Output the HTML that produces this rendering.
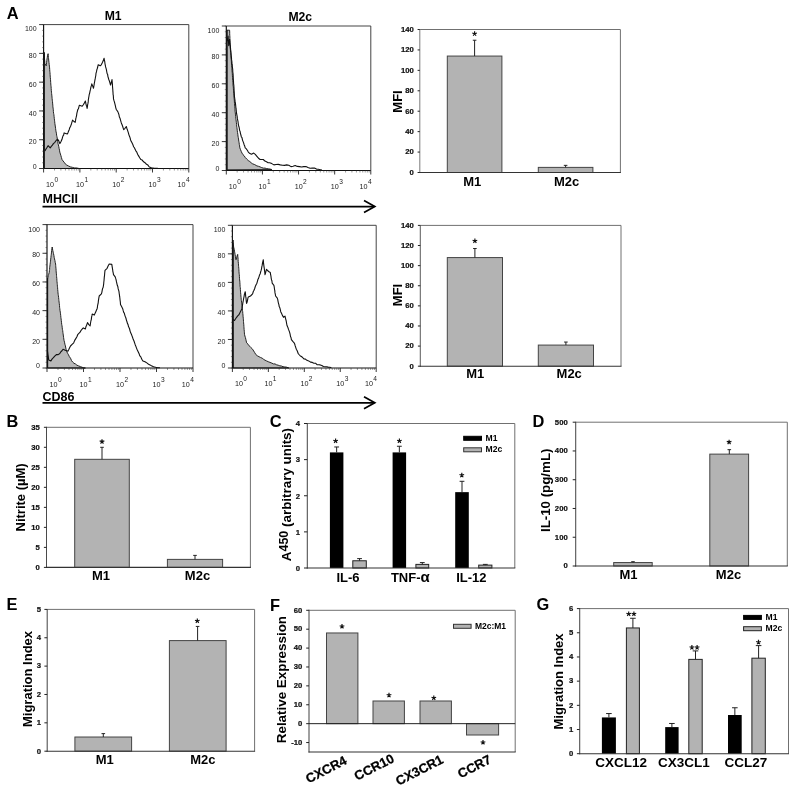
<!DOCTYPE html>
<html><head><meta charset="utf-8"><title>Figure</title>
<style>
html,body{margin:0;padding:0;background:#fff;}
body{width:800px;height:798px;overflow:hidden;font-family:'Liberation Sans', sans-serif;}
svg{display:block;filter:grayscale(1);font-family:'Liberation Sans', sans-serif;}
</style></head>
<body>
<svg width="800" height="798" viewBox="0 0 800 798">
<rect x="0" y="0" width="800" height="798" fill="#ffffff"/>
<path d="M44.1,168.5 L44.1,52.4 L44.2,54.0 L44.3,55.6 L44.4,57.3 L44.5,58.7 L44.7,60.6 L44.8,62.3 L44.9,63.7 L46.2,65.8 L46.4,64.2 L46.6,62.3 L46.8,60.8 L47.0,59.0 L47.3,57.3 L47.5,55.8 L48.1,53.7 L48.3,55.7 L48.4,57.5 L48.6,58.8 L48.8,61.0 L49.0,62.6 L49.2,64.4 L49.4,66.1 L49.6,67.9 L49.7,69.4 L49.8,71.2 L50.0,72.7 L50.1,74.4 L50.2,76.0 L50.3,77.3 L50.5,79.3 L50.6,81.0 L50.7,82.6 L50.8,84.0 L50.9,85.2 L51.1,86.8 L51.2,88.5 L51.3,90.3 L51.5,92.2 L51.6,93.5 L51.8,95.1 L52.0,97.1 L52.1,98.4 L52.3,100.2 L52.5,101.7 L52.6,103.1 L52.8,105.1 L52.9,106.9 L53.1,108.1 L53.3,109.8 L53.4,111.6 L53.6,113.3 L53.9,114.7 L54.1,116.7 L54.3,118.6 L54.5,120.2 L54.7,121.8 L54.9,123.7 L55.1,125.0 L55.4,127.0 L55.6,128.6 L55.8,130.2 L56.1,131.9 L56.4,133.2 L56.6,135.2 L56.9,136.4 L57.2,138.0 L57.4,140.0 L57.7,141.4 L58.0,143.5 L58.4,144.9 L58.8,146.7 L59.1,148.4 L59.5,150.2 L59.8,152.1 L60.4,154.0 L60.9,155.6 L61.4,157.4 L62.0,159.5 L63.0,160.9 L64.1,162.2 L65.2,163.8 L66.7,165.0 L68.3,165.9 L70.5,166.9 L72.6,167.4 L74.2,167.9 L75.8,167.9 L77.4,168.1 L79.0,168.5 Z" fill="#b9b9b9" stroke="#1a1a1a" stroke-width="0.95" stroke-linejoin="round"/>
<path d="M44.9,151.0 L46.0,149.0 L47.0,147.5 L48.1,145.7 L50.2,147.8 L51.3,146.3 L52.4,145.1 L53.4,143.6 L54.9,142.3 L56.3,140.2 L57.7,139.3 L58.8,140.9 L59.8,143.6 L60.9,141.8 L62.0,139.3 L62.5,137.4 L63.0,135.8 L63.6,135.1 L64.1,132.9 L65.7,133.4 L67.3,134.0 L67.9,132.9 L68.6,131.0 L69.2,129.7 L69.8,127.6 L70.5,126.5 L71.0,125.1 L71.5,123.7 L72.1,121.7 L72.6,120.1 L73.9,121.5 L75.2,122.3 L75.5,120.7 L75.9,118.2 L76.2,117.2 L76.6,115.3 L76.9,113.2 L77.3,111.6 L77.8,109.5 L78.4,108.8 L78.9,106.8 L79.4,105.2 L82.2,106.3 L83.3,104.7 L84.3,103.1 L85.4,101.0 L85.8,103.1 L86.2,105.1 L86.7,106.4 L87.1,108.4 L87.4,107.0 L87.6,104.9 L87.9,103.7 L88.2,101.9 L88.4,99.3 L88.7,97.6 L89.0,96.0 L89.2,94.6 L89.6,93.3 L90.1,90.9 L90.5,89.4 L90.9,87.2 L91.4,85.7 L91.8,83.9 L92.6,85.9 L93.5,88.2 L93.8,86.3 L94.1,85.0 L94.3,83.3 L94.6,82.0 L94.9,80.1 L95.2,78.7 L95.5,77.0 L95.8,75.5 L96.0,73.3 L96.5,71.7 L96.9,69.5 L97.3,68.5 L97.7,67.0 L98.2,64.7 L100.3,65.8 L101.4,64.6 L102.4,62.6 L103.3,60.6 L104.1,58.3 L104.4,60.3 L104.7,61.4 L105.0,63.8 L105.3,65.2 L105.6,66.9 L106.0,68.2 L106.4,69.6 L106.8,72.0 L107.2,73.8 L107.6,74.4 L108.0,76.8 L108.4,78.0 L108.8,79.6 L109.4,81.0 L110.0,83.0 L110.5,85.0 L111.0,83.5 L111.5,81.8 L112.0,79.6 L112.1,80.7 L112.3,83.0 L112.4,83.9 L112.5,86.3 L112.6,87.5 L112.8,89.7 L112.9,91.4 L113.0,92.4 L113.1,94.6 L113.3,95.4 L113.4,96.8 L113.5,98.8 L114.0,100.7 L114.4,101.9 L114.9,103.8 L115.4,105.8 L115.8,107.8 L116.3,109.5 L117.8,111.6 L118.3,112.9 L118.9,114.5 L119.4,117.1 L120.0,118.2 L120.5,120.1 L121.1,122.2 L121.6,123.8 L122.1,124.8 L122.7,126.5 L123.2,128.1 L123.7,129.7 L125.0,128.3 L126.3,126.5 L126.8,128.2 L127.4,129.8 L127.9,131.4 L128.4,132.9 L129.0,135.1 L129.5,136.3 L130.1,137.9 L130.6,140.0 L131.2,141.4 L132.0,142.7 L132.8,144.4 L133.6,146.7 L134.4,147.8 L135.2,149.4 L136.0,151.1 L136.8,152.1 L137.6,154.2 L138.6,155.9 L139.7,157.8 L140.8,159.5 L142.2,160.1 L143.6,161.8 L145.0,162.7 L146.5,164.3 L147.9,165.1 L149.3,167.0 L151.4,167.7 L153.6,168.1 L155.7,168.2 L157.8,168.2" fill="none" stroke="#111" stroke-width="1.1" stroke-linejoin="round"/>
<line x1="44.30" y1="52.50" x2="44.30" y2="168.50" stroke="#111" stroke-width="0.9" />
<path d="M43.6,24.6 H188.8 V168.5" fill="none" stroke="#3a3a3a" stroke-width="0.95"/>
<path d="M43.6,24.6 V168.5 H188.8" fill="none" stroke="#111" stroke-width="1.15"/>
<line x1="39.10" y1="168.50" x2="43.60" y2="168.50" stroke="#222" stroke-width="0.9" />
<text x="36.60" y="168.60" font-size="7" font-weight="normal" text-anchor="end" fill="#222" >0</text>
<line x1="39.10" y1="139.72" x2="43.60" y2="139.72" stroke="#222" stroke-width="0.9" />
<text x="36.60" y="144.42" font-size="7" font-weight="normal" text-anchor="end" fill="#222" >20</text>
<line x1="39.10" y1="110.94" x2="43.60" y2="110.94" stroke="#222" stroke-width="0.9" />
<text x="36.60" y="115.64" font-size="7" font-weight="normal" text-anchor="end" fill="#222" >40</text>
<line x1="39.10" y1="82.16" x2="43.60" y2="82.16" stroke="#222" stroke-width="0.9" />
<text x="36.60" y="86.86" font-size="7" font-weight="normal" text-anchor="end" fill="#222" >60</text>
<line x1="39.10" y1="53.38" x2="43.60" y2="53.38" stroke="#222" stroke-width="0.9" />
<text x="36.60" y="58.08" font-size="7" font-weight="normal" text-anchor="end" fill="#222" >80</text>
<line x1="39.10" y1="24.60" x2="43.60" y2="24.60" stroke="#222" stroke-width="0.9" />
<text x="36.60" y="31.10" font-size="7" font-weight="normal" text-anchor="end" fill="#222" >100</text>
<line x1="42.10" y1="168.50" x2="43.60" y2="168.50" stroke="#333" stroke-width="0.5" />
<line x1="42.10" y1="162.74" x2="43.60" y2="162.74" stroke="#333" stroke-width="0.5" />
<line x1="42.10" y1="156.99" x2="43.60" y2="156.99" stroke="#333" stroke-width="0.5" />
<line x1="42.10" y1="151.23" x2="43.60" y2="151.23" stroke="#333" stroke-width="0.5" />
<line x1="42.10" y1="145.48" x2="43.60" y2="145.48" stroke="#333" stroke-width="0.5" />
<line x1="42.10" y1="139.72" x2="43.60" y2="139.72" stroke="#333" stroke-width="0.5" />
<line x1="42.10" y1="133.96" x2="43.60" y2="133.96" stroke="#333" stroke-width="0.5" />
<line x1="42.10" y1="128.21" x2="43.60" y2="128.21" stroke="#333" stroke-width="0.5" />
<line x1="42.10" y1="122.45" x2="43.60" y2="122.45" stroke="#333" stroke-width="0.5" />
<line x1="42.10" y1="116.70" x2="43.60" y2="116.70" stroke="#333" stroke-width="0.5" />
<line x1="42.10" y1="110.94" x2="43.60" y2="110.94" stroke="#333" stroke-width="0.5" />
<line x1="42.10" y1="105.18" x2="43.60" y2="105.18" stroke="#333" stroke-width="0.5" />
<line x1="42.10" y1="99.43" x2="43.60" y2="99.43" stroke="#333" stroke-width="0.5" />
<line x1="42.10" y1="93.67" x2="43.60" y2="93.67" stroke="#333" stroke-width="0.5" />
<line x1="42.10" y1="87.92" x2="43.60" y2="87.92" stroke="#333" stroke-width="0.5" />
<line x1="42.10" y1="82.16" x2="43.60" y2="82.16" stroke="#333" stroke-width="0.5" />
<line x1="42.10" y1="76.40" x2="43.60" y2="76.40" stroke="#333" stroke-width="0.5" />
<line x1="42.10" y1="70.65" x2="43.60" y2="70.65" stroke="#333" stroke-width="0.5" />
<line x1="42.10" y1="64.89" x2="43.60" y2="64.89" stroke="#333" stroke-width="0.5" />
<line x1="42.10" y1="59.14" x2="43.60" y2="59.14" stroke="#333" stroke-width="0.5" />
<line x1="42.10" y1="53.38" x2="43.60" y2="53.38" stroke="#333" stroke-width="0.5" />
<line x1="42.10" y1="47.62" x2="43.60" y2="47.62" stroke="#333" stroke-width="0.5" />
<line x1="42.10" y1="41.87" x2="43.60" y2="41.87" stroke="#333" stroke-width="0.5" />
<line x1="42.10" y1="36.11" x2="43.60" y2="36.11" stroke="#333" stroke-width="0.5" />
<line x1="42.10" y1="30.36" x2="43.60" y2="30.36" stroke="#333" stroke-width="0.5" />
<line x1="42.10" y1="24.60" x2="43.60" y2="24.60" stroke="#333" stroke-width="0.5" />
<line x1="43.60" y1="168.50" x2="43.60" y2="172.50" stroke="#222" stroke-width="0.9" />
<text x="46.10" y="187.40" font-size="7.2" fill="#222" text-anchor="start">10<tspan dy="-5.0" dx="0.4" font-size="6.6">0</tspan></text>
<line x1="54.53" y1="168.50" x2="54.53" y2="170.50" stroke="#333" stroke-width="0.5" />
<line x1="60.92" y1="168.50" x2="60.92" y2="170.50" stroke="#333" stroke-width="0.5" />
<line x1="65.45" y1="168.50" x2="65.45" y2="170.50" stroke="#333" stroke-width="0.5" />
<line x1="68.97" y1="168.50" x2="68.97" y2="170.50" stroke="#333" stroke-width="0.5" />
<line x1="71.85" y1="168.50" x2="71.85" y2="170.50" stroke="#333" stroke-width="0.5" />
<line x1="74.28" y1="168.50" x2="74.28" y2="170.50" stroke="#333" stroke-width="0.5" />
<line x1="76.38" y1="168.50" x2="76.38" y2="170.50" stroke="#333" stroke-width="0.5" />
<line x1="78.24" y1="168.50" x2="78.24" y2="170.50" stroke="#333" stroke-width="0.5" />
<line x1="79.90" y1="168.50" x2="79.90" y2="172.50" stroke="#222" stroke-width="0.9" />
<text x="76.00" y="187.40" font-size="7.2" fill="#222" text-anchor="start">10<tspan dy="-5.0" dx="0.4" font-size="6.6">1</tspan></text>
<line x1="90.83" y1="168.50" x2="90.83" y2="170.50" stroke="#333" stroke-width="0.5" />
<line x1="97.22" y1="168.50" x2="97.22" y2="170.50" stroke="#333" stroke-width="0.5" />
<line x1="101.75" y1="168.50" x2="101.75" y2="170.50" stroke="#333" stroke-width="0.5" />
<line x1="105.27" y1="168.50" x2="105.27" y2="170.50" stroke="#333" stroke-width="0.5" />
<line x1="108.15" y1="168.50" x2="108.15" y2="170.50" stroke="#333" stroke-width="0.5" />
<line x1="110.58" y1="168.50" x2="110.58" y2="170.50" stroke="#333" stroke-width="0.5" />
<line x1="112.68" y1="168.50" x2="112.68" y2="170.50" stroke="#333" stroke-width="0.5" />
<line x1="114.54" y1="168.50" x2="114.54" y2="170.50" stroke="#333" stroke-width="0.5" />
<line x1="116.20" y1="168.50" x2="116.20" y2="172.50" stroke="#222" stroke-width="0.9" />
<text x="112.30" y="187.40" font-size="7.2" fill="#222" text-anchor="start">10<tspan dy="-5.0" dx="0.4" font-size="6.6">2</tspan></text>
<line x1="127.13" y1="168.50" x2="127.13" y2="170.50" stroke="#333" stroke-width="0.5" />
<line x1="133.52" y1="168.50" x2="133.52" y2="170.50" stroke="#333" stroke-width="0.5" />
<line x1="138.05" y1="168.50" x2="138.05" y2="170.50" stroke="#333" stroke-width="0.5" />
<line x1="141.57" y1="168.50" x2="141.57" y2="170.50" stroke="#333" stroke-width="0.5" />
<line x1="144.45" y1="168.50" x2="144.45" y2="170.50" stroke="#333" stroke-width="0.5" />
<line x1="146.88" y1="168.50" x2="146.88" y2="170.50" stroke="#333" stroke-width="0.5" />
<line x1="148.98" y1="168.50" x2="148.98" y2="170.50" stroke="#333" stroke-width="0.5" />
<line x1="150.84" y1="168.50" x2="150.84" y2="170.50" stroke="#333" stroke-width="0.5" />
<line x1="152.50" y1="168.50" x2="152.50" y2="172.50" stroke="#222" stroke-width="0.9" />
<text x="148.60" y="187.40" font-size="7.2" fill="#222" text-anchor="start">10<tspan dy="-5.0" dx="0.4" font-size="6.6">3</tspan></text>
<line x1="163.43" y1="168.50" x2="163.43" y2="170.50" stroke="#333" stroke-width="0.5" />
<line x1="169.82" y1="168.50" x2="169.82" y2="170.50" stroke="#333" stroke-width="0.5" />
<line x1="174.35" y1="168.50" x2="174.35" y2="170.50" stroke="#333" stroke-width="0.5" />
<line x1="177.87" y1="168.50" x2="177.87" y2="170.50" stroke="#333" stroke-width="0.5" />
<line x1="180.75" y1="168.50" x2="180.75" y2="170.50" stroke="#333" stroke-width="0.5" />
<line x1="183.18" y1="168.50" x2="183.18" y2="170.50" stroke="#333" stroke-width="0.5" />
<line x1="185.28" y1="168.50" x2="185.28" y2="170.50" stroke="#333" stroke-width="0.5" />
<line x1="187.14" y1="168.50" x2="187.14" y2="170.50" stroke="#333" stroke-width="0.5" />
<line x1="188.80" y1="168.50" x2="188.80" y2="172.50" stroke="#222" stroke-width="0.9" />
<text x="189.60" y="187.40" font-size="7.2" fill="#222" text-anchor="end">10<tspan dy="-5.0" dx="0.4" font-size="6.6">4</tspan></text>
<path d="M227.0,169.8 L227.0,30.2 L229.6,30.2 L229.7,32.0 L229.7,33.8 L229.8,35.6 L229.9,37.0 L229.9,38.7 L230.0,40.6 L230.0,42.3 L230.1,44.4 L230.2,46.1 L230.2,47.7 L230.4,49.4 L230.5,50.9 L230.6,52.6 L230.8,53.9 L230.9,55.6 L231.0,57.1 L231.2,59.1 L231.3,60.5 L231.4,61.9 L231.5,64.0 L231.7,65.2 L231.8,67.3 L231.9,68.7 L232.0,70.5 L232.2,72.4 L232.3,73.6 L232.4,75.3 L232.5,77.5 L232.6,78.9 L232.8,80.3 L232.9,82.5 L233.0,83.9 L233.1,85.8 L233.3,86.9 L233.4,88.8 L233.5,90.2 L233.6,91.9 L233.8,93.8 L233.9,95.1 L234.0,97.1 L234.1,98.3 L234.3,100.0 L234.4,102.0 L234.5,103.4 L234.6,105.0 L234.8,106.8 L234.9,108.3 L235.0,109.9 L235.1,111.6 L235.3,112.9 L235.5,114.9 L235.7,116.7 L235.8,118.3 L236.0,119.7 L236.2,121.1 L236.4,122.7 L236.6,124.5 L236.7,126.1 L236.9,127.3 L237.1,129.0 L237.3,130.8 L237.5,132.4 L237.8,134.2 L238.0,136.1 L238.3,137.6 L238.5,139.0 L238.8,141.2 L239.1,142.7 L239.3,144.4 L239.6,145.9 L239.8,147.8 L240.5,149.6 L241.2,151.3 L242.0,153.1 L243.0,154.7 L244.1,155.7 L245.2,157.4 L246.7,159.0 L248.3,160.6 L249.8,161.5 L251.2,162.8 L252.6,163.8 L254.7,164.6 L256.9,165.9 L258.5,166.3 L260.1,166.9 L261.7,167.6 L263.3,168.1 L265.0,168.1 L266.7,168.6 L268.4,168.8 L270.1,169.1 L271.8,169.5 Z" fill="#b9b9b9" stroke="#1a1a1a" stroke-width="0.95" stroke-linejoin="round"/>
<path d="M227.0,41.3 L227.4,39.7 L227.8,38.0 L228.1,36.0 L228.2,37.9 L228.3,39.7 L228.4,41.0 L228.5,42.8 L228.6,43.4 L228.7,45.6 L229.0,43.9 L229.2,42.9 L229.4,40.9 L229.6,39.2 L229.8,41.3 L229.9,42.2 L230.1,44.3 L230.3,45.7 L230.5,47.7 L230.6,49.5 L230.8,50.6 L231.0,52.5 L231.1,54.3 L231.3,56.2 L231.5,58.4 L231.6,59.9 L231.8,61.0 L232.0,63.4 L232.2,64.3 L232.3,66.6 L232.5,67.7 L232.7,69.3 L232.8,72.0 L233.0,73.3 L233.1,74.6 L233.2,76.3 L233.3,78.8 L233.4,80.4 L233.5,81.4 L233.6,83.8 L233.8,85.0 L233.9,86.8 L234.0,88.0 L234.1,90.5 L234.2,91.9 L234.3,93.9 L234.4,95.5 L234.5,96.7 L234.7,98.2 L234.9,99.9 L235.1,101.4 L235.4,103.1 L235.6,104.7 L235.8,106.7 L236.0,108.7 L236.2,109.8 L236.4,112.2 L236.6,113.7 L236.9,115.2 L237.2,116.7 L237.4,118.9 L237.7,120.1 L238.0,121.5 L238.2,123.3 L238.5,125.1 L238.8,126.5 L239.2,127.7 L239.6,130.4 L240.0,131.1 L240.5,133.6 L240.9,135.0 L241.4,137.0 L242.0,137.7 L242.5,140.1 L243.0,141.4 L243.6,142.9 L244.1,144.7 L244.6,145.7 L245.2,147.8 L246.2,148.7 L247.3,150.3 L248.3,152.1 L249.9,153.6 L251.5,154.2 L253.7,153.1 L255.3,154.4 L256.9,156.3 L258.5,158.2 L260.1,159.5 L263.3,159.5 L264.9,161.1 L266.5,161.7 L268.1,162.7 L269.6,162.7 L271.8,163.6 L273.9,164.9 L276.0,164.5 L278.2,164.4 L280.3,164.9 L282.4,165.3 L284.6,165.4 L286.7,164.9 L288.8,165.3 L291.0,166.6 L293.1,166.3 L295.2,165.5 L297.3,166.4 L299.5,166.6 L301.6,167.0 L303.7,166.6 L305.9,166.5 L308.0,167.4 L310.1,168.2 L312.3,168.1 L314.4,168.1 L316.5,169.1 L318.3,169.2 L320.1,169.7 L321.8,169.8" fill="none" stroke="#111" stroke-width="1.1" stroke-linejoin="round"/>
<line x1="227.00" y1="30.00" x2="227.00" y2="170.50" stroke="#111" stroke-width="0.9" />
<path d="M226.3,26.0 H370.8 V170.5" fill="none" stroke="#3a3a3a" stroke-width="0.95"/>
<path d="M226.3,26.0 V170.5 H370.8" fill="none" stroke="#111" stroke-width="1.15"/>
<line x1="221.80" y1="170.50" x2="226.30" y2="170.50" stroke="#222" stroke-width="0.9" />
<text x="219.30" y="170.60" font-size="7" font-weight="normal" text-anchor="end" fill="#222" >0</text>
<line x1="221.80" y1="141.60" x2="226.30" y2="141.60" stroke="#222" stroke-width="0.9" />
<text x="219.30" y="145.70" font-size="7" font-weight="normal" text-anchor="end" fill="#222" >20</text>
<line x1="221.80" y1="112.70" x2="226.30" y2="112.70" stroke="#222" stroke-width="0.9" />
<text x="219.30" y="116.80" font-size="7" font-weight="normal" text-anchor="end" fill="#222" >40</text>
<line x1="221.80" y1="83.80" x2="226.30" y2="83.80" stroke="#222" stroke-width="0.9" />
<text x="219.30" y="87.90" font-size="7" font-weight="normal" text-anchor="end" fill="#222" >60</text>
<line x1="221.80" y1="54.90" x2="226.30" y2="54.90" stroke="#222" stroke-width="0.9" />
<text x="219.30" y="59.00" font-size="7" font-weight="normal" text-anchor="end" fill="#222" >80</text>
<line x1="221.80" y1="26.00" x2="226.30" y2="26.00" stroke="#222" stroke-width="0.9" />
<text x="219.30" y="33.10" font-size="7" font-weight="normal" text-anchor="end" fill="#222" >100</text>
<line x1="224.80" y1="170.50" x2="226.30" y2="170.50" stroke="#333" stroke-width="0.5" />
<line x1="224.80" y1="164.72" x2="226.30" y2="164.72" stroke="#333" stroke-width="0.5" />
<line x1="224.80" y1="158.94" x2="226.30" y2="158.94" stroke="#333" stroke-width="0.5" />
<line x1="224.80" y1="153.16" x2="226.30" y2="153.16" stroke="#333" stroke-width="0.5" />
<line x1="224.80" y1="147.38" x2="226.30" y2="147.38" stroke="#333" stroke-width="0.5" />
<line x1="224.80" y1="141.60" x2="226.30" y2="141.60" stroke="#333" stroke-width="0.5" />
<line x1="224.80" y1="135.82" x2="226.30" y2="135.82" stroke="#333" stroke-width="0.5" />
<line x1="224.80" y1="130.04" x2="226.30" y2="130.04" stroke="#333" stroke-width="0.5" />
<line x1="224.80" y1="124.26" x2="226.30" y2="124.26" stroke="#333" stroke-width="0.5" />
<line x1="224.80" y1="118.48" x2="226.30" y2="118.48" stroke="#333" stroke-width="0.5" />
<line x1="224.80" y1="112.70" x2="226.30" y2="112.70" stroke="#333" stroke-width="0.5" />
<line x1="224.80" y1="106.92" x2="226.30" y2="106.92" stroke="#333" stroke-width="0.5" />
<line x1="224.80" y1="101.14" x2="226.30" y2="101.14" stroke="#333" stroke-width="0.5" />
<line x1="224.80" y1="95.36" x2="226.30" y2="95.36" stroke="#333" stroke-width="0.5" />
<line x1="224.80" y1="89.58" x2="226.30" y2="89.58" stroke="#333" stroke-width="0.5" />
<line x1="224.80" y1="83.80" x2="226.30" y2="83.80" stroke="#333" stroke-width="0.5" />
<line x1="224.80" y1="78.02" x2="226.30" y2="78.02" stroke="#333" stroke-width="0.5" />
<line x1="224.80" y1="72.24" x2="226.30" y2="72.24" stroke="#333" stroke-width="0.5" />
<line x1="224.80" y1="66.46" x2="226.30" y2="66.46" stroke="#333" stroke-width="0.5" />
<line x1="224.80" y1="60.68" x2="226.30" y2="60.68" stroke="#333" stroke-width="0.5" />
<line x1="224.80" y1="54.90" x2="226.30" y2="54.90" stroke="#333" stroke-width="0.5" />
<line x1="224.80" y1="49.12" x2="226.30" y2="49.12" stroke="#333" stroke-width="0.5" />
<line x1="224.80" y1="43.34" x2="226.30" y2="43.34" stroke="#333" stroke-width="0.5" />
<line x1="224.80" y1="37.56" x2="226.30" y2="37.56" stroke="#333" stroke-width="0.5" />
<line x1="224.80" y1="31.78" x2="226.30" y2="31.78" stroke="#333" stroke-width="0.5" />
<line x1="224.80" y1="26.00" x2="226.30" y2="26.00" stroke="#333" stroke-width="0.5" />
<line x1="226.30" y1="170.50" x2="226.30" y2="174.50" stroke="#222" stroke-width="0.9" />
<text x="228.80" y="189.40" font-size="7.2" fill="#222" text-anchor="start">10<tspan dy="-5.8" dx="0.4" font-size="6.6">0</tspan></text>
<line x1="237.17" y1="170.50" x2="237.17" y2="172.50" stroke="#333" stroke-width="0.5" />
<line x1="243.54" y1="170.50" x2="243.54" y2="172.50" stroke="#333" stroke-width="0.5" />
<line x1="248.05" y1="170.50" x2="248.05" y2="172.50" stroke="#333" stroke-width="0.5" />
<line x1="251.55" y1="170.50" x2="251.55" y2="172.50" stroke="#333" stroke-width="0.5" />
<line x1="254.41" y1="170.50" x2="254.41" y2="172.50" stroke="#333" stroke-width="0.5" />
<line x1="256.83" y1="170.50" x2="256.83" y2="172.50" stroke="#333" stroke-width="0.5" />
<line x1="258.92" y1="170.50" x2="258.92" y2="172.50" stroke="#333" stroke-width="0.5" />
<line x1="260.77" y1="170.50" x2="260.77" y2="172.50" stroke="#333" stroke-width="0.5" />
<line x1="262.43" y1="170.50" x2="262.43" y2="174.50" stroke="#222" stroke-width="0.9" />
<text x="258.53" y="189.40" font-size="7.2" fill="#222" text-anchor="start">10<tspan dy="-5.8" dx="0.4" font-size="6.6">1</tspan></text>
<line x1="273.30" y1="170.50" x2="273.30" y2="172.50" stroke="#333" stroke-width="0.5" />
<line x1="279.66" y1="170.50" x2="279.66" y2="172.50" stroke="#333" stroke-width="0.5" />
<line x1="284.17" y1="170.50" x2="284.17" y2="172.50" stroke="#333" stroke-width="0.5" />
<line x1="287.68" y1="170.50" x2="287.68" y2="172.50" stroke="#333" stroke-width="0.5" />
<line x1="290.54" y1="170.50" x2="290.54" y2="172.50" stroke="#333" stroke-width="0.5" />
<line x1="292.95" y1="170.50" x2="292.95" y2="172.50" stroke="#333" stroke-width="0.5" />
<line x1="295.05" y1="170.50" x2="295.05" y2="172.50" stroke="#333" stroke-width="0.5" />
<line x1="296.90" y1="170.50" x2="296.90" y2="172.50" stroke="#333" stroke-width="0.5" />
<line x1="298.55" y1="170.50" x2="298.55" y2="174.50" stroke="#222" stroke-width="0.9" />
<text x="294.65" y="189.40" font-size="7.2" fill="#222" text-anchor="start">10<tspan dy="-5.8" dx="0.4" font-size="6.6">2</tspan></text>
<line x1="309.42" y1="170.50" x2="309.42" y2="172.50" stroke="#333" stroke-width="0.5" />
<line x1="315.79" y1="170.50" x2="315.79" y2="172.50" stroke="#333" stroke-width="0.5" />
<line x1="320.30" y1="170.50" x2="320.30" y2="172.50" stroke="#333" stroke-width="0.5" />
<line x1="323.80" y1="170.50" x2="323.80" y2="172.50" stroke="#333" stroke-width="0.5" />
<line x1="326.66" y1="170.50" x2="326.66" y2="172.50" stroke="#333" stroke-width="0.5" />
<line x1="329.08" y1="170.50" x2="329.08" y2="172.50" stroke="#333" stroke-width="0.5" />
<line x1="331.17" y1="170.50" x2="331.17" y2="172.50" stroke="#333" stroke-width="0.5" />
<line x1="333.02" y1="170.50" x2="333.02" y2="172.50" stroke="#333" stroke-width="0.5" />
<line x1="334.68" y1="170.50" x2="334.68" y2="174.50" stroke="#222" stroke-width="0.9" />
<text x="330.78" y="189.40" font-size="7.2" fill="#222" text-anchor="start">10<tspan dy="-5.8" dx="0.4" font-size="6.6">3</tspan></text>
<line x1="345.55" y1="170.50" x2="345.55" y2="172.50" stroke="#333" stroke-width="0.5" />
<line x1="351.91" y1="170.50" x2="351.91" y2="172.50" stroke="#333" stroke-width="0.5" />
<line x1="356.42" y1="170.50" x2="356.42" y2="172.50" stroke="#333" stroke-width="0.5" />
<line x1="359.93" y1="170.50" x2="359.93" y2="172.50" stroke="#333" stroke-width="0.5" />
<line x1="362.79" y1="170.50" x2="362.79" y2="172.50" stroke="#333" stroke-width="0.5" />
<line x1="365.20" y1="170.50" x2="365.20" y2="172.50" stroke="#333" stroke-width="0.5" />
<line x1="367.30" y1="170.50" x2="367.30" y2="172.50" stroke="#333" stroke-width="0.5" />
<line x1="369.15" y1="170.50" x2="369.15" y2="172.50" stroke="#333" stroke-width="0.5" />
<line x1="370.80" y1="170.50" x2="370.80" y2="174.50" stroke="#222" stroke-width="0.9" />
<text x="371.60" y="189.40" font-size="7.2" fill="#222" text-anchor="end">10<tspan dy="-5.8" dx="0.4" font-size="6.6">4</tspan></text>
<path d="M47.5,368.0 L47.5,278.9 L47.9,277.6 L48.3,275.4 L48.7,274.3 L49.2,272.5 L49.4,270.7 L49.6,269.5 L49.7,267.3 L49.9,266.1 L50.1,264.3 L50.3,262.8 L50.5,261.2 L50.7,259.1 L50.9,257.6 L51.1,255.7 L51.3,254.2 L51.5,252.1 L51.7,250.4 L51.9,248.6 L52.2,247.0 L52.5,248.9 L52.8,250.6 L53.2,252.2 L53.5,253.6 L53.9,255.5 L54.2,257.4 L54.5,258.9 L54.9,260.4 L55.2,262.3 L55.6,264.0 L55.7,265.5 L55.8,266.9 L56.0,268.8 L56.1,270.3 L56.2,272.0 L56.4,273.8 L56.5,275.3 L56.6,276.7 L56.8,278.6 L56.9,280.3 L57.0,281.6 L57.2,283.4 L57.3,284.5 L57.4,286.2 L57.6,287.8 L57.7,289.6 L57.9,291.4 L58.0,292.9 L58.2,294.5 L58.4,295.8 L58.6,297.5 L58.8,299.4 L58.9,300.5 L59.1,302.1 L59.3,303.7 L59.5,305.5 L59.6,307.3 L59.8,308.7 L60.0,310.5 L60.3,312.1 L60.5,313.8 L60.7,315.4 L60.9,317.5 L61.1,318.9 L61.3,320.5 L61.5,322.3 L61.7,324.3 L62.0,325.8 L62.2,327.3 L62.4,329.3 L62.7,330.6 L62.9,332.4 L63.1,333.8 L63.4,336.0 L63.6,337.6 L63.8,339.0 L64.1,340.7 L64.5,342.2 L64.9,344.2 L65.4,345.9 L65.8,348.0 L66.2,349.8 L66.6,351.3 L67.6,353.3 L68.5,354.8 L69.4,356.7 L70.5,358.2 L71.5,360.5 L72.6,362.0 L74.0,363.3 L75.4,363.9 L76.9,365.2 L78.6,365.9 L80.4,366.6 L82.2,367.3 L83.8,367.9 L85.4,368.0 Z" fill="#b9b9b9" stroke="#1a1a1a" stroke-width="0.95" stroke-linejoin="round"/>
<path d="M47.5,351.3 L47.7,352.7 L48.0,355.3 L48.2,356.0 L48.5,358.4 L48.7,359.9 L50.9,360.9 L52.2,358.9 L53.4,357.7 L55.0,355.9 L56.6,354.5 L58.2,354.6 L59.8,353.5 L60.9,351.7 L62.0,350.8 L63.0,349.2 L65.2,350.3 L67.9,351.3 L68.8,349.5 L69.6,347.7 L70.5,346.0 L72.1,344.4 L73.7,342.8 L74.7,340.4 L75.8,338.6 L76.9,336.8 L77.9,334.3 L80.1,332.2 L81.1,330.3 L82.2,329.0 L83.3,327.9 L85.4,329.0 L85.9,326.8 L86.5,325.5 L87.0,324.1 L87.5,322.6 L88.8,324.6 L90.1,325.8 L90.4,324.0 L90.7,322.0 L91.0,320.5 L91.3,319.6 L91.6,316.9 L91.9,315.9 L92.2,314.1 L94.3,315.1 L95.0,313.4 L95.7,312.1 L96.4,310.2 L97.1,308.7 L97.4,307.3 L97.6,305.5 L97.9,304.1 L98.2,302.8 L98.4,300.8 L98.7,298.8 L99.0,297.1 L99.2,296.0 L101.4,293.8 L101.8,292.6 L102.2,290.4 L102.6,288.4 L103.1,287.5 L103.5,285.3 L103.7,283.7 L103.8,282.2 L104.0,280.7 L104.2,278.4 L104.3,276.9 L104.5,275.8 L104.7,273.3 L104.8,272.3 L105.0,270.4 L107.1,268.3 L108.2,265.7 L109.2,264.0 L111.8,264.4 L112.1,266.3 L112.4,268.1 L112.7,270.0 L112.9,271.6 L113.2,272.9 L113.5,274.6 L115.2,276.8 L115.6,278.2 L116.1,279.8 L116.5,281.9 L116.9,283.6 L117.3,285.3 L117.8,286.4 L118.2,288.9 L118.6,290.1 L119.0,291.7 L119.2,293.5 L119.4,294.6 L119.6,296.2 L119.8,297.5 L120.0,299.5 L120.2,301.0 L120.4,302.8 L120.5,304.5 L121.6,306.5 L122.7,308.7 L123.2,310.7 L123.7,312.4 L124.3,313.2 L124.8,315.1 L125.3,316.6 L125.9,318.0 L126.4,320.1 L126.9,321.5 L127.5,323.6 L128.0,324.4 L128.5,326.6 L129.1,327.7 L129.6,329.0 L130.1,331.1 L130.8,333.1 L131.4,334.3 L132.0,335.9 L132.7,337.8 L133.3,339.6 L134.0,341.0 L134.6,342.9 L135.2,344.7 L135.9,346.4 L136.5,348.1 L137.2,349.7 L137.8,350.9 L138.4,352.2 L139.1,353.7 L139.7,355.6 L140.8,356.9 L141.8,359.2 L142.9,360.9 L145.0,361.8 L147.2,363.1 L148.6,364.3 L150.0,364.9 L151.4,365.8 L153.6,366.8 L155.7,367.3 L157.8,367.7 L159.9,367.7" fill="none" stroke="#111" stroke-width="1.1" stroke-linejoin="round"/>
<line x1="47.70" y1="278.00" x2="47.70" y2="368.00" stroke="#111" stroke-width="0.9" />
<path d="M47.0,224.6 H193.0 V368.0" fill="none" stroke="#3a3a3a" stroke-width="0.95"/>
<path d="M47.0,224.6 V368.0 H193.0" fill="none" stroke="#111" stroke-width="1.15"/>
<line x1="42.50" y1="368.00" x2="47.00" y2="368.00" stroke="#222" stroke-width="0.9" />
<text x="40.00" y="368.10" font-size="7" font-weight="normal" text-anchor="end" fill="#222" >0</text>
<line x1="42.50" y1="339.32" x2="47.00" y2="339.32" stroke="#222" stroke-width="0.9" />
<text x="40.00" y="343.52" font-size="7" font-weight="normal" text-anchor="end" fill="#222" >20</text>
<line x1="42.50" y1="310.64" x2="47.00" y2="310.64" stroke="#222" stroke-width="0.9" />
<text x="40.00" y="314.84" font-size="7" font-weight="normal" text-anchor="end" fill="#222" >40</text>
<line x1="42.50" y1="281.96" x2="47.00" y2="281.96" stroke="#222" stroke-width="0.9" />
<text x="40.00" y="286.16" font-size="7" font-weight="normal" text-anchor="end" fill="#222" >60</text>
<line x1="42.50" y1="253.28" x2="47.00" y2="253.28" stroke="#222" stroke-width="0.9" />
<text x="40.00" y="257.48" font-size="7" font-weight="normal" text-anchor="end" fill="#222" >80</text>
<line x1="42.50" y1="224.60" x2="47.00" y2="224.60" stroke="#222" stroke-width="0.9" />
<text x="40.00" y="231.90" font-size="7" font-weight="normal" text-anchor="end" fill="#222" >100</text>
<line x1="45.50" y1="368.00" x2="47.00" y2="368.00" stroke="#333" stroke-width="0.5" />
<line x1="45.50" y1="362.26" x2="47.00" y2="362.26" stroke="#333" stroke-width="0.5" />
<line x1="45.50" y1="356.53" x2="47.00" y2="356.53" stroke="#333" stroke-width="0.5" />
<line x1="45.50" y1="350.79" x2="47.00" y2="350.79" stroke="#333" stroke-width="0.5" />
<line x1="45.50" y1="345.06" x2="47.00" y2="345.06" stroke="#333" stroke-width="0.5" />
<line x1="45.50" y1="339.32" x2="47.00" y2="339.32" stroke="#333" stroke-width="0.5" />
<line x1="45.50" y1="333.58" x2="47.00" y2="333.58" stroke="#333" stroke-width="0.5" />
<line x1="45.50" y1="327.85" x2="47.00" y2="327.85" stroke="#333" stroke-width="0.5" />
<line x1="45.50" y1="322.11" x2="47.00" y2="322.11" stroke="#333" stroke-width="0.5" />
<line x1="45.50" y1="316.38" x2="47.00" y2="316.38" stroke="#333" stroke-width="0.5" />
<line x1="45.50" y1="310.64" x2="47.00" y2="310.64" stroke="#333" stroke-width="0.5" />
<line x1="45.50" y1="304.90" x2="47.00" y2="304.90" stroke="#333" stroke-width="0.5" />
<line x1="45.50" y1="299.17" x2="47.00" y2="299.17" stroke="#333" stroke-width="0.5" />
<line x1="45.50" y1="293.43" x2="47.00" y2="293.43" stroke="#333" stroke-width="0.5" />
<line x1="45.50" y1="287.70" x2="47.00" y2="287.70" stroke="#333" stroke-width="0.5" />
<line x1="45.50" y1="281.96" x2="47.00" y2="281.96" stroke="#333" stroke-width="0.5" />
<line x1="45.50" y1="276.22" x2="47.00" y2="276.22" stroke="#333" stroke-width="0.5" />
<line x1="45.50" y1="270.49" x2="47.00" y2="270.49" stroke="#333" stroke-width="0.5" />
<line x1="45.50" y1="264.75" x2="47.00" y2="264.75" stroke="#333" stroke-width="0.5" />
<line x1="45.50" y1="259.02" x2="47.00" y2="259.02" stroke="#333" stroke-width="0.5" />
<line x1="45.50" y1="253.28" x2="47.00" y2="253.28" stroke="#333" stroke-width="0.5" />
<line x1="45.50" y1="247.54" x2="47.00" y2="247.54" stroke="#333" stroke-width="0.5" />
<line x1="45.50" y1="241.81" x2="47.00" y2="241.81" stroke="#333" stroke-width="0.5" />
<line x1="45.50" y1="236.07" x2="47.00" y2="236.07" stroke="#333" stroke-width="0.5" />
<line x1="45.50" y1="230.34" x2="47.00" y2="230.34" stroke="#333" stroke-width="0.5" />
<line x1="45.50" y1="224.60" x2="47.00" y2="224.60" stroke="#333" stroke-width="0.5" />
<line x1="47.00" y1="368.00" x2="47.00" y2="372.00" stroke="#222" stroke-width="0.9" />
<text x="49.50" y="386.90" font-size="7.2" fill="#222" text-anchor="start">10<tspan dy="-4.5" dx="0.4" font-size="6.6">0</tspan></text>
<line x1="57.99" y1="368.00" x2="57.99" y2="370.00" stroke="#333" stroke-width="0.5" />
<line x1="64.41" y1="368.00" x2="64.41" y2="370.00" stroke="#333" stroke-width="0.5" />
<line x1="68.98" y1="368.00" x2="68.98" y2="370.00" stroke="#333" stroke-width="0.5" />
<line x1="72.51" y1="368.00" x2="72.51" y2="370.00" stroke="#333" stroke-width="0.5" />
<line x1="75.40" y1="368.00" x2="75.40" y2="370.00" stroke="#333" stroke-width="0.5" />
<line x1="77.85" y1="368.00" x2="77.85" y2="370.00" stroke="#333" stroke-width="0.5" />
<line x1="79.96" y1="368.00" x2="79.96" y2="370.00" stroke="#333" stroke-width="0.5" />
<line x1="81.83" y1="368.00" x2="81.83" y2="370.00" stroke="#333" stroke-width="0.5" />
<line x1="83.50" y1="368.00" x2="83.50" y2="372.00" stroke="#222" stroke-width="0.9" />
<text x="79.60" y="386.90" font-size="7.2" fill="#222" text-anchor="start">10<tspan dy="-4.5" dx="0.4" font-size="6.6">1</tspan></text>
<line x1="94.49" y1="368.00" x2="94.49" y2="370.00" stroke="#333" stroke-width="0.5" />
<line x1="100.91" y1="368.00" x2="100.91" y2="370.00" stroke="#333" stroke-width="0.5" />
<line x1="105.48" y1="368.00" x2="105.48" y2="370.00" stroke="#333" stroke-width="0.5" />
<line x1="109.01" y1="368.00" x2="109.01" y2="370.00" stroke="#333" stroke-width="0.5" />
<line x1="111.90" y1="368.00" x2="111.90" y2="370.00" stroke="#333" stroke-width="0.5" />
<line x1="114.35" y1="368.00" x2="114.35" y2="370.00" stroke="#333" stroke-width="0.5" />
<line x1="116.46" y1="368.00" x2="116.46" y2="370.00" stroke="#333" stroke-width="0.5" />
<line x1="118.33" y1="368.00" x2="118.33" y2="370.00" stroke="#333" stroke-width="0.5" />
<line x1="120.00" y1="368.00" x2="120.00" y2="372.00" stroke="#222" stroke-width="0.9" />
<text x="116.10" y="386.90" font-size="7.2" fill="#222" text-anchor="start">10<tspan dy="-4.5" dx="0.4" font-size="6.6">2</tspan></text>
<line x1="130.99" y1="368.00" x2="130.99" y2="370.00" stroke="#333" stroke-width="0.5" />
<line x1="137.41" y1="368.00" x2="137.41" y2="370.00" stroke="#333" stroke-width="0.5" />
<line x1="141.98" y1="368.00" x2="141.98" y2="370.00" stroke="#333" stroke-width="0.5" />
<line x1="145.51" y1="368.00" x2="145.51" y2="370.00" stroke="#333" stroke-width="0.5" />
<line x1="148.40" y1="368.00" x2="148.40" y2="370.00" stroke="#333" stroke-width="0.5" />
<line x1="150.85" y1="368.00" x2="150.85" y2="370.00" stroke="#333" stroke-width="0.5" />
<line x1="152.96" y1="368.00" x2="152.96" y2="370.00" stroke="#333" stroke-width="0.5" />
<line x1="154.83" y1="368.00" x2="154.83" y2="370.00" stroke="#333" stroke-width="0.5" />
<line x1="156.50" y1="368.00" x2="156.50" y2="372.00" stroke="#222" stroke-width="0.9" />
<text x="152.60" y="386.90" font-size="7.2" fill="#222" text-anchor="start">10<tspan dy="-4.5" dx="0.4" font-size="6.6">3</tspan></text>
<line x1="167.49" y1="368.00" x2="167.49" y2="370.00" stroke="#333" stroke-width="0.5" />
<line x1="173.91" y1="368.00" x2="173.91" y2="370.00" stroke="#333" stroke-width="0.5" />
<line x1="178.48" y1="368.00" x2="178.48" y2="370.00" stroke="#333" stroke-width="0.5" />
<line x1="182.01" y1="368.00" x2="182.01" y2="370.00" stroke="#333" stroke-width="0.5" />
<line x1="184.90" y1="368.00" x2="184.90" y2="370.00" stroke="#333" stroke-width="0.5" />
<line x1="187.35" y1="368.00" x2="187.35" y2="370.00" stroke="#333" stroke-width="0.5" />
<line x1="189.46" y1="368.00" x2="189.46" y2="370.00" stroke="#333" stroke-width="0.5" />
<line x1="191.33" y1="368.00" x2="191.33" y2="370.00" stroke="#333" stroke-width="0.5" />
<line x1="193.00" y1="368.00" x2="193.00" y2="372.00" stroke="#222" stroke-width="0.9" />
<text x="193.80" y="386.90" font-size="7.2" fill="#222" text-anchor="end">10<tspan dy="-4.5" dx="0.4" font-size="6.6">4</tspan></text>
<path d="M232.8,368.0 L232.8,242.7 L233.1,244.2 L233.5,246.2 L233.8,247.7 L234.2,249.3 L234.5,251.2 L234.8,252.9 L235.1,254.6 L235.4,256.3 L235.7,258.0 L236.0,259.7 L236.6,257.8 L237.1,256.0 L237.7,254.4 L237.8,256.3 L238.0,257.8 L238.1,259.7 L238.2,261.5 L238.4,263.3 L238.5,265.1 L238.6,266.4 L238.8,268.3 L238.9,269.7 L239.0,271.7 L239.1,273.2 L239.3,274.6 L239.4,276.5 L239.5,278.3 L239.6,279.9 L239.8,281.1 L239.9,282.8 L240.0,284.3 L240.1,286.5 L240.3,287.6 L240.4,289.6 L240.5,291.1 L240.6,292.8 L240.8,294.3 L240.9,296.0 L241.1,297.7 L241.2,299.2 L241.4,300.6 L241.6,302.1 L241.8,303.9 L242.0,305.8 L242.1,306.9 L242.3,308.8 L242.5,310.4 L242.7,311.7 L242.8,313.4 L243.0,315.1 L243.1,316.8 L243.3,318.3 L243.4,319.9 L243.5,321.5 L243.6,322.9 L243.8,324.8 L243.9,326.4 L244.0,327.9 L244.1,329.4 L244.3,331.3 L244.4,332.9 L244.5,334.3 L244.9,336.0 L245.4,337.5 L245.8,339.2 L246.2,340.9 L246.6,342.8 L248.0,344.2 L249.4,346.0 L251.0,347.7 L252.6,349.2 L253.7,351.0 L254.7,352.6 L255.8,354.5 L257.4,355.8 L259.0,356.7 L260.6,357.5 L262.2,358.2 L263.6,359.3 L265.0,360.2 L266.5,360.9 L268.2,361.7 L270.0,362.4 L271.8,363.1 L273.4,363.9 L275.0,363.9 L276.6,364.8 L278.2,365.2 L279.8,365.8 L281.4,366.0 L283.0,366.7 L284.6,366.9 L286.7,367.2 L288.8,368.0 Z" fill="#b9b9b9" stroke="#1a1a1a" stroke-width="0.95" stroke-linejoin="round"/>
<path d="M232.8,319.4 L234.5,320.5 L235.6,318.8 L236.6,317.3 L237.7,315.9 L238.8,314.9 L239.8,313.0 L240.9,310.8 L242.0,308.7 L242.2,307.0 L242.5,305.3 L242.8,303.1 L243.1,301.6 L243.4,300.0 L243.7,298.1 L244.0,296.8 L244.4,294.4 L244.8,293.1 L245.2,291.7 L245.4,292.9 L245.6,295.4 L245.8,296.9 L246.0,297.9 L246.2,300.6 L246.4,302.2 L246.6,303.4 L247.1,302.0 L247.5,300.3 L247.9,298.2 L248.3,297.0 L250.5,296.0 L252.6,293.8 L253.3,291.5 L254.0,290.3 L254.7,288.5 L255.4,286.2 L256.2,284.6 L256.9,283.2 L257.4,281.3 L257.9,279.5 L258.5,278.3 L259.0,276.8 L259.5,275.1 L260.1,274.0 L260.6,272.0 L261.1,270.4 L261.5,268.8 L261.8,266.8 L262.2,265.2 L262.5,263.2 L262.9,261.3 L263.3,259.7 L263.4,261.9 L263.6,263.6 L263.8,265.1 L264.0,266.6 L264.2,267.8 L264.4,269.4 L264.6,271.1 L264.8,272.5 L265.0,274.6 L265.5,273.2 L266.0,271.0 L266.5,269.3 L268.6,271.5 L270.3,272.5 L270.6,274.7 L270.9,275.9 L271.2,278.3 L271.6,280.0 L271.9,280.8 L272.2,283.2 L273.9,285.3 L274.2,286.8 L274.5,289.3 L274.8,290.6 L275.0,292.9 L275.3,294.1 L275.6,296.0 L277.3,298.1 L277.7,299.3 L278.1,301.6 L278.5,303.5 L278.9,304.6 L279.2,306.6 L279.8,307.7 L280.3,309.6 L280.8,311.9 L281.4,313.0 L282.4,315.4 L283.5,317.3 L285.0,316.2 L285.3,317.4 L285.7,319.1 L286.1,320.5 L286.4,322.1 L286.8,324.5 L287.1,325.8 L287.8,327.2 L288.5,329.4 L289.2,331.1 L289.7,332.7 L290.1,334.2 L290.5,336.5 L291.0,337.5 L291.4,339.6 L292.8,341.4 L294.1,342.8 L294.7,344.0 L295.2,345.9 L295.7,347.3 L296.3,349.2 L297.2,350.7 L298.1,353.3 L299.0,354.5 L300.3,355.9 L301.5,356.5 L302.7,357.7 L304.1,359.0 L305.5,359.1 L306.9,360.3 L308.7,360.9 L310.5,362.1 L312.3,362.4 L313.9,363.2 L315.5,363.2 L317.0,364.7 L318.6,364.8 L320.2,364.9 L321.8,365.5 L323.4,366.5 L325.0,366.7 L326.6,366.8 L328.2,367.1 L329.8,367.2 L331.4,367.7" fill="none" stroke="#111" stroke-width="1.1" stroke-linejoin="round"/>
<line x1="233.10" y1="240.00" x2="233.10" y2="368.00" stroke="#111" stroke-width="1.3" />
<path d="M232.4,225.3 H376.2 V368.0" fill="none" stroke="#3a3a3a" stroke-width="0.95"/>
<path d="M232.4,225.3 V368.0 H376.2" fill="none" stroke="#111" stroke-width="1.15"/>
<line x1="227.90" y1="368.00" x2="232.40" y2="368.00" stroke="#222" stroke-width="0.9" />
<text x="225.40" y="368.10" font-size="7" font-weight="normal" text-anchor="end" fill="#222" >0</text>
<line x1="227.90" y1="339.46" x2="232.40" y2="339.46" stroke="#222" stroke-width="0.9" />
<text x="225.40" y="343.96" font-size="7" font-weight="normal" text-anchor="end" fill="#222" >20</text>
<line x1="227.90" y1="310.92" x2="232.40" y2="310.92" stroke="#222" stroke-width="0.9" />
<text x="225.40" y="315.42" font-size="7" font-weight="normal" text-anchor="end" fill="#222" >40</text>
<line x1="227.90" y1="282.38" x2="232.40" y2="282.38" stroke="#222" stroke-width="0.9" />
<text x="225.40" y="286.88" font-size="7" font-weight="normal" text-anchor="end" fill="#222" >60</text>
<line x1="227.90" y1="253.84" x2="232.40" y2="253.84" stroke="#222" stroke-width="0.9" />
<text x="225.40" y="258.34" font-size="7" font-weight="normal" text-anchor="end" fill="#222" >80</text>
<line x1="227.90" y1="225.30" x2="232.40" y2="225.30" stroke="#222" stroke-width="0.9" />
<text x="225.40" y="231.80" font-size="7" font-weight="normal" text-anchor="end" fill="#222" >100</text>
<line x1="230.90" y1="368.00" x2="232.40" y2="368.00" stroke="#333" stroke-width="0.5" />
<line x1="230.90" y1="362.29" x2="232.40" y2="362.29" stroke="#333" stroke-width="0.5" />
<line x1="230.90" y1="356.58" x2="232.40" y2="356.58" stroke="#333" stroke-width="0.5" />
<line x1="230.90" y1="350.88" x2="232.40" y2="350.88" stroke="#333" stroke-width="0.5" />
<line x1="230.90" y1="345.17" x2="232.40" y2="345.17" stroke="#333" stroke-width="0.5" />
<line x1="230.90" y1="339.46" x2="232.40" y2="339.46" stroke="#333" stroke-width="0.5" />
<line x1="230.90" y1="333.75" x2="232.40" y2="333.75" stroke="#333" stroke-width="0.5" />
<line x1="230.90" y1="328.04" x2="232.40" y2="328.04" stroke="#333" stroke-width="0.5" />
<line x1="230.90" y1="322.34" x2="232.40" y2="322.34" stroke="#333" stroke-width="0.5" />
<line x1="230.90" y1="316.63" x2="232.40" y2="316.63" stroke="#333" stroke-width="0.5" />
<line x1="230.90" y1="310.92" x2="232.40" y2="310.92" stroke="#333" stroke-width="0.5" />
<line x1="230.90" y1="305.21" x2="232.40" y2="305.21" stroke="#333" stroke-width="0.5" />
<line x1="230.90" y1="299.50" x2="232.40" y2="299.50" stroke="#333" stroke-width="0.5" />
<line x1="230.90" y1="293.80" x2="232.40" y2="293.80" stroke="#333" stroke-width="0.5" />
<line x1="230.90" y1="288.09" x2="232.40" y2="288.09" stroke="#333" stroke-width="0.5" />
<line x1="230.90" y1="282.38" x2="232.40" y2="282.38" stroke="#333" stroke-width="0.5" />
<line x1="230.90" y1="276.67" x2="232.40" y2="276.67" stroke="#333" stroke-width="0.5" />
<line x1="230.90" y1="270.96" x2="232.40" y2="270.96" stroke="#333" stroke-width="0.5" />
<line x1="230.90" y1="265.26" x2="232.40" y2="265.26" stroke="#333" stroke-width="0.5" />
<line x1="230.90" y1="259.55" x2="232.40" y2="259.55" stroke="#333" stroke-width="0.5" />
<line x1="230.90" y1="253.84" x2="232.40" y2="253.84" stroke="#333" stroke-width="0.5" />
<line x1="230.90" y1="248.13" x2="232.40" y2="248.13" stroke="#333" stroke-width="0.5" />
<line x1="230.90" y1="242.42" x2="232.40" y2="242.42" stroke="#333" stroke-width="0.5" />
<line x1="230.90" y1="236.72" x2="232.40" y2="236.72" stroke="#333" stroke-width="0.5" />
<line x1="230.90" y1="231.01" x2="232.40" y2="231.01" stroke="#333" stroke-width="0.5" />
<line x1="230.90" y1="225.30" x2="232.40" y2="225.30" stroke="#333" stroke-width="0.5" />
<line x1="232.40" y1="368.00" x2="232.40" y2="372.00" stroke="#222" stroke-width="0.9" />
<text x="234.90" y="386.30" font-size="7.2" fill="#222" text-anchor="start">10<tspan dy="-5.0" dx="0.4" font-size="6.6">0</tspan></text>
<line x1="243.22" y1="368.00" x2="243.22" y2="370.00" stroke="#333" stroke-width="0.5" />
<line x1="249.55" y1="368.00" x2="249.55" y2="370.00" stroke="#333" stroke-width="0.5" />
<line x1="254.04" y1="368.00" x2="254.04" y2="370.00" stroke="#333" stroke-width="0.5" />
<line x1="257.53" y1="368.00" x2="257.53" y2="370.00" stroke="#333" stroke-width="0.5" />
<line x1="260.37" y1="368.00" x2="260.37" y2="370.00" stroke="#333" stroke-width="0.5" />
<line x1="262.78" y1="368.00" x2="262.78" y2="370.00" stroke="#333" stroke-width="0.5" />
<line x1="264.87" y1="368.00" x2="264.87" y2="370.00" stroke="#333" stroke-width="0.5" />
<line x1="266.71" y1="368.00" x2="266.71" y2="370.00" stroke="#333" stroke-width="0.5" />
<line x1="268.35" y1="368.00" x2="268.35" y2="372.00" stroke="#222" stroke-width="0.9" />
<text x="264.45" y="386.30" font-size="7.2" fill="#222" text-anchor="start">10<tspan dy="-5.0" dx="0.4" font-size="6.6">1</tspan></text>
<line x1="279.17" y1="368.00" x2="279.17" y2="370.00" stroke="#333" stroke-width="0.5" />
<line x1="285.50" y1="368.00" x2="285.50" y2="370.00" stroke="#333" stroke-width="0.5" />
<line x1="289.99" y1="368.00" x2="289.99" y2="370.00" stroke="#333" stroke-width="0.5" />
<line x1="293.48" y1="368.00" x2="293.48" y2="370.00" stroke="#333" stroke-width="0.5" />
<line x1="296.32" y1="368.00" x2="296.32" y2="370.00" stroke="#333" stroke-width="0.5" />
<line x1="298.73" y1="368.00" x2="298.73" y2="370.00" stroke="#333" stroke-width="0.5" />
<line x1="300.82" y1="368.00" x2="300.82" y2="370.00" stroke="#333" stroke-width="0.5" />
<line x1="302.66" y1="368.00" x2="302.66" y2="370.00" stroke="#333" stroke-width="0.5" />
<line x1="304.30" y1="368.00" x2="304.30" y2="372.00" stroke="#222" stroke-width="0.9" />
<text x="300.40" y="386.30" font-size="7.2" fill="#222" text-anchor="start">10<tspan dy="-5.0" dx="0.4" font-size="6.6">2</tspan></text>
<line x1="315.12" y1="368.00" x2="315.12" y2="370.00" stroke="#333" stroke-width="0.5" />
<line x1="321.45" y1="368.00" x2="321.45" y2="370.00" stroke="#333" stroke-width="0.5" />
<line x1="325.94" y1="368.00" x2="325.94" y2="370.00" stroke="#333" stroke-width="0.5" />
<line x1="329.43" y1="368.00" x2="329.43" y2="370.00" stroke="#333" stroke-width="0.5" />
<line x1="332.27" y1="368.00" x2="332.27" y2="370.00" stroke="#333" stroke-width="0.5" />
<line x1="334.68" y1="368.00" x2="334.68" y2="370.00" stroke="#333" stroke-width="0.5" />
<line x1="336.77" y1="368.00" x2="336.77" y2="370.00" stroke="#333" stroke-width="0.5" />
<line x1="338.61" y1="368.00" x2="338.61" y2="370.00" stroke="#333" stroke-width="0.5" />
<line x1="340.25" y1="368.00" x2="340.25" y2="372.00" stroke="#222" stroke-width="0.9" />
<text x="336.35" y="386.30" font-size="7.2" fill="#222" text-anchor="start">10<tspan dy="-5.0" dx="0.4" font-size="6.6">3</tspan></text>
<line x1="351.07" y1="368.00" x2="351.07" y2="370.00" stroke="#333" stroke-width="0.5" />
<line x1="357.40" y1="368.00" x2="357.40" y2="370.00" stroke="#333" stroke-width="0.5" />
<line x1="361.89" y1="368.00" x2="361.89" y2="370.00" stroke="#333" stroke-width="0.5" />
<line x1="365.38" y1="368.00" x2="365.38" y2="370.00" stroke="#333" stroke-width="0.5" />
<line x1="368.22" y1="368.00" x2="368.22" y2="370.00" stroke="#333" stroke-width="0.5" />
<line x1="370.63" y1="368.00" x2="370.63" y2="370.00" stroke="#333" stroke-width="0.5" />
<line x1="372.72" y1="368.00" x2="372.72" y2="370.00" stroke="#333" stroke-width="0.5" />
<line x1="374.56" y1="368.00" x2="374.56" y2="370.00" stroke="#333" stroke-width="0.5" />
<line x1="376.20" y1="368.00" x2="376.20" y2="372.00" stroke="#222" stroke-width="0.9" />
<text x="377.00" y="386.30" font-size="7.2" fill="#222" text-anchor="end">10<tspan dy="-5.0" dx="0.4" font-size="6.6">4</tspan></text>
<text x="113.10" y="20.00" font-size="12.2" font-weight="bold" text-anchor="middle" fill="#000" >M1</text>
<text x="300.30" y="20.50" font-size="12.2" font-weight="bold" text-anchor="middle" fill="#000" >M2c</text>
<text x="6.80" y="18.90" font-size="16.4" font-weight="bold" text-anchor="start" fill="#000" >A</text>
<text x="42.50" y="202.50" font-size="12.5" font-weight="bold" text-anchor="start" fill="#000" >MHCII</text>
<line x1="42.50" y1="206.60" x2="374.30" y2="206.60" stroke="#000" stroke-width="1.65" />
<path d="M364.0,200.6 L374.8,206.6 L364.0,212.6" fill="none" stroke="#000" stroke-width="1.7"/>
<text x="42.50" y="400.50" font-size="12.5" font-weight="bold" text-anchor="start" fill="#000" >CD86</text>
<line x1="42.50" y1="402.80" x2="374.30" y2="402.80" stroke="#000" stroke-width="1.65" />
<path d="M364.0,396.8 L374.8,402.8 L364.0,408.8" fill="none" stroke="#000" stroke-width="1.7"/>
<path d="M419.8,29.5 H620.4 V172.5" fill="none" stroke="#707070" stroke-width="1"/>
<rect x="447.30" y="56.06" width="54.60" height="116.44" fill="#b3b3b3" stroke="#444" stroke-width="1"/>
<line x1="474.60" y1="56.06" x2="474.60" y2="40.22" stroke="#222" stroke-width="1" />
<line x1="472.80" y1="40.22" x2="476.40" y2="40.22" stroke="#222" stroke-width="1" />
<rect x="538.30" y="167.39" width="54.60" height="5.11" fill="#b3b3b3" stroke="#444" stroke-width="1"/>
<line x1="565.60" y1="167.39" x2="565.60" y2="165.35" stroke="#222" stroke-width="1" />
<line x1="563.80" y1="165.35" x2="567.40" y2="165.35" stroke="#222" stroke-width="1" />
<line x1="419.80" y1="29.00" x2="419.80" y2="173.00" stroke="#808080" stroke-width="1.05" />
<line x1="419.30" y1="172.50" x2="620.90" y2="172.50" stroke="#333" stroke-width="1.1" />
<line x1="417.60" y1="172.50" x2="419.80" y2="172.50" stroke="#222" stroke-width="1" />
<text x="413.80" y="174.80" font-size="7.7" font-weight="bold" text-anchor="end" fill="#111" stroke="#111" stroke-width="0.22">0</text>
<line x1="417.60" y1="152.07" x2="419.80" y2="152.07" stroke="#222" stroke-width="1" />
<text x="413.80" y="154.37" font-size="7.7" font-weight="bold" text-anchor="end" fill="#111" stroke="#111" stroke-width="0.22">20</text>
<line x1="417.60" y1="131.64" x2="419.80" y2="131.64" stroke="#222" stroke-width="1" />
<text x="413.80" y="133.94" font-size="7.7" font-weight="bold" text-anchor="end" fill="#111" stroke="#111" stroke-width="0.22">40</text>
<line x1="417.60" y1="111.21" x2="419.80" y2="111.21" stroke="#222" stroke-width="1" />
<text x="413.80" y="113.51" font-size="7.7" font-weight="bold" text-anchor="end" fill="#111" stroke="#111" stroke-width="0.22">60</text>
<line x1="417.60" y1="90.79" x2="419.80" y2="90.79" stroke="#222" stroke-width="1" />
<text x="413.80" y="93.09" font-size="7.7" font-weight="bold" text-anchor="end" fill="#111" stroke="#111" stroke-width="0.22">80</text>
<line x1="417.60" y1="70.36" x2="419.80" y2="70.36" stroke="#222" stroke-width="1" />
<text x="413.80" y="72.66" font-size="7.7" font-weight="bold" text-anchor="end" fill="#111" stroke="#111" stroke-width="0.22">100</text>
<line x1="417.60" y1="49.93" x2="419.80" y2="49.93" stroke="#222" stroke-width="1" />
<text x="413.80" y="52.23" font-size="7.7" font-weight="bold" text-anchor="end" fill="#111" stroke="#111" stroke-width="0.22">120</text>
<line x1="417.60" y1="29.50" x2="419.80" y2="29.50" stroke="#222" stroke-width="1" />
<text x="413.80" y="31.80" font-size="7.7" font-weight="bold" text-anchor="end" fill="#111" stroke="#111" stroke-width="0.22">140</text>
<path d="M474.60,33.75 L474.60,31.30 M474.60,33.75 L476.93,32.99 M474.60,33.75 L476.04,35.73 M474.60,33.75 L473.16,35.73 M474.60,33.75 L472.27,32.99 " stroke="#111" stroke-width="1.15" stroke-linecap="butt" fill="none"/>
<text x="472.20" y="186.20" font-size="13" font-weight="bold" text-anchor="middle" fill="#000" >M1</text>
<text x="566.60" y="186.20" font-size="13" font-weight="bold" text-anchor="middle" fill="#000" >M2c</text>
<text transform="translate(402.00,101.50) rotate(-90)" font-size="13" font-weight="bold" text-anchor="middle" fill="#000" >MFI</text>
<path d="M420.3,225.4 H621.0 V366.2" fill="none" stroke="#707070" stroke-width="1"/>
<rect x="447.30" y="257.58" width="55.20" height="108.62" fill="#b3b3b3" stroke="#444" stroke-width="1"/>
<line x1="474.90" y1="257.58" x2="474.90" y2="248.53" stroke="#222" stroke-width="1" />
<line x1="473.10" y1="248.53" x2="476.70" y2="248.53" stroke="#222" stroke-width="1" />
<rect x="538.30" y="345.08" width="55.20" height="21.12" fill="#b3b3b3" stroke="#444" stroke-width="1"/>
<line x1="565.90" y1="345.08" x2="565.90" y2="342.06" stroke="#222" stroke-width="1" />
<line x1="564.10" y1="342.06" x2="567.70" y2="342.06" stroke="#222" stroke-width="1" />
<line x1="420.30" y1="224.90" x2="420.30" y2="366.70" stroke="#606060" stroke-width="1.05" />
<line x1="419.80" y1="366.20" x2="621.50" y2="366.20" stroke="#333" stroke-width="1.1" />
<line x1="417.90" y1="366.20" x2="420.30" y2="366.20" stroke="#222" stroke-width="1" />
<text x="413.90" y="368.50" font-size="7.7" font-weight="bold" text-anchor="end" fill="#111" stroke="#111" stroke-width="0.22">0</text>
<line x1="417.90" y1="346.09" x2="420.30" y2="346.09" stroke="#222" stroke-width="1" />
<text x="413.90" y="348.39" font-size="7.7" font-weight="bold" text-anchor="end" fill="#111" stroke="#111" stroke-width="0.22">20</text>
<line x1="417.90" y1="325.97" x2="420.30" y2="325.97" stroke="#222" stroke-width="1" />
<text x="413.90" y="328.27" font-size="7.7" font-weight="bold" text-anchor="end" fill="#111" stroke="#111" stroke-width="0.22">40</text>
<line x1="417.90" y1="305.86" x2="420.30" y2="305.86" stroke="#222" stroke-width="1" />
<text x="413.90" y="308.16" font-size="7.7" font-weight="bold" text-anchor="end" fill="#111" stroke="#111" stroke-width="0.22">60</text>
<line x1="417.90" y1="285.74" x2="420.30" y2="285.74" stroke="#222" stroke-width="1" />
<text x="413.90" y="288.04" font-size="7.7" font-weight="bold" text-anchor="end" fill="#111" stroke="#111" stroke-width="0.22">80</text>
<line x1="417.90" y1="265.63" x2="420.30" y2="265.63" stroke="#222" stroke-width="1" />
<text x="413.90" y="267.93" font-size="7.7" font-weight="bold" text-anchor="end" fill="#111" stroke="#111" stroke-width="0.22">100</text>
<line x1="417.90" y1="245.51" x2="420.30" y2="245.51" stroke="#222" stroke-width="1" />
<text x="413.90" y="247.81" font-size="7.7" font-weight="bold" text-anchor="end" fill="#111" stroke="#111" stroke-width="0.22">120</text>
<line x1="417.90" y1="225.40" x2="420.30" y2="225.40" stroke="#222" stroke-width="1" />
<text x="413.90" y="227.70" font-size="7.7" font-weight="bold" text-anchor="end" fill="#111" stroke="#111" stroke-width="0.22">140</text>
<path d="M474.90,240.95 L474.90,238.50 M474.90,240.95 L477.23,240.19 M474.90,240.95 L476.34,242.93 M474.90,240.95 L473.46,242.93 M474.90,240.95 L472.57,240.19 " stroke="#111" stroke-width="1.15" stroke-linecap="butt" fill="none"/>
<text x="475.20" y="378.20" font-size="13" font-weight="bold" text-anchor="middle" fill="#000" >M1</text>
<text x="569.20" y="378.20" font-size="13" font-weight="bold" text-anchor="middle" fill="#000" >M2c</text>
<text transform="translate(401.60,295.00) rotate(-90)" font-size="13" font-weight="bold" text-anchor="middle" fill="#000" >MFI</text>
<path d="M46.5,427.3 H250.4 V567.4" fill="none" stroke="#707070" stroke-width="1"/>
<rect x="74.70" y="459.32" width="54.60" height="108.08" fill="#b3b3b3" stroke="#444" stroke-width="1"/>
<line x1="102.00" y1="459.32" x2="102.00" y2="447.31" stroke="#222" stroke-width="1" />
<line x1="100.20" y1="447.31" x2="103.80" y2="447.31" stroke="#222" stroke-width="1" />
<rect x="167.40" y="559.39" width="55.20" height="8.01" fill="#b3b3b3" stroke="#444" stroke-width="1"/>
<line x1="195.00" y1="559.39" x2="195.00" y2="555.39" stroke="#222" stroke-width="1" />
<line x1="193.20" y1="555.39" x2="196.80" y2="555.39" stroke="#222" stroke-width="1" />
<line x1="46.50" y1="426.80" x2="46.50" y2="567.90" stroke="#4a4a4a" stroke-width="1.05" />
<line x1="46.00" y1="567.40" x2="250.90" y2="567.40" stroke="#333" stroke-width="1.1" />
<line x1="43.90" y1="567.40" x2="46.50" y2="567.40" stroke="#222" stroke-width="1" />
<text x="39.70" y="569.70" font-size="7.7" font-weight="bold" text-anchor="end" fill="#111" stroke="#111" stroke-width="0.22">0</text>
<line x1="43.90" y1="547.39" x2="46.50" y2="547.39" stroke="#222" stroke-width="1" />
<text x="39.70" y="549.69" font-size="7.7" font-weight="bold" text-anchor="end" fill="#111" stroke="#111" stroke-width="0.22">5</text>
<line x1="43.90" y1="527.37" x2="46.50" y2="527.37" stroke="#222" stroke-width="1" />
<text x="39.70" y="529.67" font-size="7.7" font-weight="bold" text-anchor="end" fill="#111" stroke="#111" stroke-width="0.22">10</text>
<line x1="43.90" y1="507.36" x2="46.50" y2="507.36" stroke="#222" stroke-width="1" />
<text x="39.70" y="509.66" font-size="7.7" font-weight="bold" text-anchor="end" fill="#111" stroke="#111" stroke-width="0.22">15</text>
<line x1="43.90" y1="487.34" x2="46.50" y2="487.34" stroke="#222" stroke-width="1" />
<text x="39.70" y="489.64" font-size="7.7" font-weight="bold" text-anchor="end" fill="#111" stroke="#111" stroke-width="0.22">20</text>
<line x1="43.90" y1="467.33" x2="46.50" y2="467.33" stroke="#222" stroke-width="1" />
<text x="39.70" y="469.63" font-size="7.7" font-weight="bold" text-anchor="end" fill="#111" stroke="#111" stroke-width="0.22">25</text>
<line x1="43.90" y1="447.31" x2="46.50" y2="447.31" stroke="#222" stroke-width="1" />
<text x="39.70" y="449.61" font-size="7.7" font-weight="bold" text-anchor="end" fill="#111" stroke="#111" stroke-width="0.22">30</text>
<line x1="43.90" y1="427.30" x2="46.50" y2="427.30" stroke="#222" stroke-width="1" />
<text x="39.70" y="429.60" font-size="7.7" font-weight="bold" text-anchor="end" fill="#111" stroke="#111" stroke-width="0.22">35</text>
<path d="M102.00,441.65 L102.00,439.20 M102.00,441.65 L104.33,440.89 M102.00,441.65 L103.44,443.63 M102.00,441.65 L100.56,443.63 M102.00,441.65 L99.67,440.89 " stroke="#111" stroke-width="1.15" stroke-linecap="butt" fill="none"/>
<text x="101.00" y="579.60" font-size="13" font-weight="bold" text-anchor="middle" fill="#000" >M1</text>
<text x="197.50" y="579.60" font-size="13" font-weight="bold" text-anchor="middle" fill="#000" >M2c</text>
<text transform="translate(24.70,497.40) rotate(-90)" font-size="13" font-weight="bold" text-anchor="middle" fill="#000" >Nitrite (&#181;M)</text>
<text x="6.50" y="426.80" font-size="16.4" font-weight="bold" text-anchor="start" fill="#000" >B</text>
<path d="M307.3,423.5 H514.8 V568.0" fill="none" stroke="#707070" stroke-width="1"/>
<rect x="329.90" y="452.40" width="13.50" height="115.60" fill="#000"/>
<line x1="336.65" y1="452.40" x2="336.65" y2="446.98" stroke="#222" stroke-width="1" />
<line x1="334.25" y1="446.98" x2="339.05" y2="446.98" stroke="#222" stroke-width="1" />
<rect x="352.80" y="560.77" width="13.50" height="7.23" fill="#b3b3b3" stroke="#222" stroke-width="1"/>
<line x1="359.55" y1="560.77" x2="359.55" y2="558.61" stroke="#222" stroke-width="1" />
<line x1="357.15" y1="558.61" x2="361.95" y2="558.61" stroke="#222" stroke-width="1" />
<rect x="392.60" y="452.40" width="13.50" height="115.60" fill="#000"/>
<line x1="399.35" y1="452.40" x2="399.35" y2="446.26" stroke="#222" stroke-width="1" />
<line x1="396.95" y1="446.26" x2="401.75" y2="446.26" stroke="#222" stroke-width="1" />
<rect x="415.90" y="564.39" width="12.80" height="3.61" fill="#b3b3b3" stroke="#222" stroke-width="1"/>
<line x1="422.30" y1="564.39" x2="422.30" y2="562.58" stroke="#222" stroke-width="1" />
<line x1="419.90" y1="562.58" x2="424.70" y2="562.58" stroke="#222" stroke-width="1" />
<rect x="455.20" y="492.14" width="13.60" height="75.86" fill="#000"/>
<line x1="462.00" y1="492.14" x2="462.00" y2="481.30" stroke="#222" stroke-width="1" />
<line x1="459.60" y1="481.30" x2="464.40" y2="481.30" stroke="#222" stroke-width="1" />
<rect x="478.70" y="565.11" width="13.20" height="2.89" fill="#b3b3b3" stroke="#222" stroke-width="1"/>
<line x1="485.30" y1="565.11" x2="485.30" y2="564.39" stroke="#222" stroke-width="1" />
<line x1="482.90" y1="564.39" x2="487.70" y2="564.39" stroke="#222" stroke-width="1" />
<line x1="307.30" y1="423.00" x2="307.30" y2="568.50" stroke="#4a4a4a" stroke-width="1.05" />
<line x1="306.80" y1="568.00" x2="515.30" y2="568.00" stroke="#333" stroke-width="1.1" />
<line x1="304.00" y1="568.00" x2="307.30" y2="568.00" stroke="#222" stroke-width="1" />
<text x="300.10" y="570.80" font-size="7.7" font-weight="bold" text-anchor="end" fill="#111" stroke="#111" stroke-width="0.22">0</text>
<line x1="304.00" y1="531.88" x2="307.30" y2="531.88" stroke="#222" stroke-width="1" />
<text x="300.10" y="534.67" font-size="7.7" font-weight="bold" text-anchor="end" fill="#111" stroke="#111" stroke-width="0.22">1</text>
<line x1="304.00" y1="495.75" x2="307.30" y2="495.75" stroke="#222" stroke-width="1" />
<text x="300.10" y="498.55" font-size="7.7" font-weight="bold" text-anchor="end" fill="#111" stroke="#111" stroke-width="0.22">2</text>
<line x1="304.00" y1="459.62" x2="307.30" y2="459.62" stroke="#222" stroke-width="1" />
<text x="300.10" y="462.43" font-size="7.7" font-weight="bold" text-anchor="end" fill="#111" stroke="#111" stroke-width="0.22">3</text>
<line x1="304.00" y1="423.50" x2="307.30" y2="423.50" stroke="#222" stroke-width="1" />
<text x="300.10" y="426.30" font-size="7.7" font-weight="bold" text-anchor="end" fill="#111" stroke="#111" stroke-width="0.22">4</text>
<path d="M335.60,440.95 L335.60,438.50 M335.60,440.95 L337.93,440.19 M335.60,440.95 L337.04,442.93 M335.60,440.95 L334.16,442.93 M335.60,440.95 L333.27,440.19 " stroke="#111" stroke-width="1.15" stroke-linecap="butt" fill="none"/>
<path d="M399.40,440.95 L399.40,438.50 M399.40,440.95 L401.73,440.19 M399.40,440.95 L400.84,442.93 M399.40,440.95 L397.96,442.93 M399.40,440.95 L397.07,440.19 " stroke="#111" stroke-width="1.15" stroke-linecap="butt" fill="none"/>
<path d="M461.80,475.25 L461.80,472.80 M461.80,475.25 L464.13,474.49 M461.80,475.25 L463.24,477.23 M461.80,475.25 L460.36,477.23 M461.80,475.25 L459.47,474.49 " stroke="#111" stroke-width="1.15" stroke-linecap="butt" fill="none"/>
<rect x="463.70" y="436.30" width="17.80" height="4.00" fill="#000" stroke="#000" stroke-width="1"/>
<text x="485.50" y="440.50" font-size="8.6" font-weight="bold" text-anchor="start" fill="#000" >M1</text>
<rect x="463.70" y="447.80" width="17.80" height="4.00" fill="#b3b3b3" stroke="#333" stroke-width="1"/>
<text x="485.50" y="452.40" font-size="8.6" font-weight="bold" text-anchor="start" fill="#000" >M2c</text>
<text x="348.00" y="582.20" font-size="13" font-weight="bold" text-anchor="middle" fill="#000" >IL-6</text>
<text x="410.30" y="582.20" font-size="13" font-weight="bold" text-anchor="middle" fill="#000" >TNF-<tspan font-size="15">&#945;</tspan></text>
<text x="471.30" y="582.20" font-size="13" font-weight="bold" text-anchor="middle" fill="#000" >IL-12</text>
<text transform="translate(290.8,494.6) rotate(-90)" font-size="13.4" font-weight="bold" text-anchor="middle">A<tspan dy="-3.1" font-size="12.5">450</tspan><tspan dy="3.1"> (arbitrary units)</tspan></text>
<text x="269.80" y="426.60" font-size="16.4" font-weight="bold" text-anchor="start" fill="#000" >C</text>
<path d="M575.7,422.2 H787.3 V566.0" fill="none" stroke="#707070" stroke-width="1"/>
<rect x="613.70" y="562.55" width="38.50" height="3.45" fill="#b3b3b3" stroke="#444" stroke-width="1"/>
<line x1="633.00" y1="562.55" x2="633.00" y2="561.69" stroke="#222" stroke-width="1" />
<line x1="631.20" y1="561.69" x2="634.80" y2="561.69" stroke="#222" stroke-width="1" />
<rect x="709.80" y="454.12" width="38.80" height="111.88" fill="#b3b3b3" stroke="#444" stroke-width="1"/>
<line x1="729.30" y1="454.12" x2="729.30" y2="449.67" stroke="#222" stroke-width="1" />
<line x1="727.50" y1="449.67" x2="731.10" y2="449.67" stroke="#222" stroke-width="1" />
<line x1="575.70" y1="421.70" x2="575.70" y2="566.50" stroke="#4a4a4a" stroke-width="1.05" />
<line x1="575.20" y1="566.00" x2="787.80" y2="566.00" stroke="#333" stroke-width="1.1" />
<line x1="572.70" y1="566.00" x2="575.70" y2="566.00" stroke="#222" stroke-width="1" />
<text x="567.70" y="568.30" font-size="7.7" font-weight="bold" text-anchor="end" fill="#111" stroke="#111" stroke-width="0.22">0</text>
<line x1="572.70" y1="537.24" x2="575.70" y2="537.24" stroke="#222" stroke-width="1" />
<text x="567.70" y="539.54" font-size="7.7" font-weight="bold" text-anchor="end" fill="#111" stroke="#111" stroke-width="0.22">100</text>
<line x1="572.70" y1="508.48" x2="575.70" y2="508.48" stroke="#222" stroke-width="1" />
<text x="567.70" y="510.78" font-size="7.7" font-weight="bold" text-anchor="end" fill="#111" stroke="#111" stroke-width="0.22">200</text>
<line x1="572.70" y1="479.72" x2="575.70" y2="479.72" stroke="#222" stroke-width="1" />
<text x="567.70" y="482.02" font-size="7.7" font-weight="bold" text-anchor="end" fill="#111" stroke="#111" stroke-width="0.22">300</text>
<line x1="572.70" y1="450.96" x2="575.70" y2="450.96" stroke="#222" stroke-width="1" />
<text x="567.70" y="453.26" font-size="7.7" font-weight="bold" text-anchor="end" fill="#111" stroke="#111" stroke-width="0.22">400</text>
<line x1="572.70" y1="422.20" x2="575.70" y2="422.20" stroke="#222" stroke-width="1" />
<text x="567.70" y="424.50" font-size="7.7" font-weight="bold" text-anchor="end" fill="#111" stroke="#111" stroke-width="0.22">500</text>
<path d="M729.10,442.15 L729.10,439.70 M729.10,442.15 L731.43,441.39 M729.10,442.15 L730.54,444.13 M729.10,442.15 L727.66,444.13 M729.10,442.15 L726.77,441.39 " stroke="#111" stroke-width="1.15" stroke-linecap="butt" fill="none"/>
<text x="628.50" y="579.20" font-size="13" font-weight="bold" text-anchor="middle" fill="#000" >M1</text>
<text x="728.50" y="579.20" font-size="13" font-weight="bold" text-anchor="middle" fill="#000" >M2c</text>
<text transform="translate(550.00,490.30) rotate(-90)" font-size="13.3" font-weight="bold" text-anchor="middle" fill="#000" >IL-10 (pg/mL)</text>
<text x="532.50" y="426.50" font-size="16.4" font-weight="bold" text-anchor="start" fill="#000" >D</text>
<path d="M47.2,609.4 H254.6 V751.2" fill="none" stroke="#707070" stroke-width="1"/>
<rect x="74.90" y="737.02" width="56.70" height="14.18" fill="#b3b3b3" stroke="#444" stroke-width="1"/>
<line x1="103.30" y1="737.02" x2="103.30" y2="733.62" stroke="#222" stroke-width="1" />
<line x1="101.50" y1="733.62" x2="105.10" y2="733.62" stroke="#222" stroke-width="1" />
<rect x="169.40" y="640.60" width="56.70" height="110.60" fill="#b3b3b3" stroke="#444" stroke-width="1"/>
<line x1="197.60" y1="640.60" x2="197.60" y2="626.42" stroke="#222" stroke-width="1" />
<line x1="195.80" y1="626.42" x2="199.40" y2="626.42" stroke="#222" stroke-width="1" />
<line x1="47.20" y1="608.90" x2="47.20" y2="751.70" stroke="#4a4a4a" stroke-width="1.05" />
<line x1="46.70" y1="751.20" x2="255.10" y2="751.20" stroke="#333" stroke-width="1.1" />
<line x1="44.40" y1="751.20" x2="47.20" y2="751.20" stroke="#222" stroke-width="1" />
<text x="41.00" y="753.50" font-size="7.7" font-weight="bold" text-anchor="end" fill="#111" stroke="#111" stroke-width="0.22">0</text>
<line x1="44.40" y1="722.84" x2="47.20" y2="722.84" stroke="#222" stroke-width="1" />
<text x="41.00" y="725.14" font-size="7.7" font-weight="bold" text-anchor="end" fill="#111" stroke="#111" stroke-width="0.22">1</text>
<line x1="44.40" y1="694.48" x2="47.20" y2="694.48" stroke="#222" stroke-width="1" />
<text x="41.00" y="696.78" font-size="7.7" font-weight="bold" text-anchor="end" fill="#111" stroke="#111" stroke-width="0.22">2</text>
<line x1="44.40" y1="666.12" x2="47.20" y2="666.12" stroke="#222" stroke-width="1" />
<text x="41.00" y="668.42" font-size="7.7" font-weight="bold" text-anchor="end" fill="#111" stroke="#111" stroke-width="0.22">3</text>
<line x1="44.40" y1="637.76" x2="47.20" y2="637.76" stroke="#222" stroke-width="1" />
<text x="41.00" y="640.06" font-size="7.7" font-weight="bold" text-anchor="end" fill="#111" stroke="#111" stroke-width="0.22">4</text>
<line x1="44.40" y1="609.40" x2="47.20" y2="609.40" stroke="#222" stroke-width="1" />
<text x="41.00" y="611.70" font-size="7.7" font-weight="bold" text-anchor="end" fill="#111" stroke="#111" stroke-width="0.22">5</text>
<path d="M197.30,620.95 L197.30,618.50 M197.30,620.95 L199.63,620.19 M197.30,620.95 L198.74,622.93 M197.30,620.95 L195.86,622.93 M197.30,620.95 L194.97,620.19 " stroke="#111" stroke-width="1.15" stroke-linecap="butt" fill="none"/>
<text x="104.70" y="763.70" font-size="13" font-weight="bold" text-anchor="middle" fill="#000" >M1</text>
<text x="202.90" y="763.70" font-size="13" font-weight="bold" text-anchor="middle" fill="#000" >M2c</text>
<text transform="translate(32.00,679.00) rotate(-90)" font-size="13" font-weight="bold" text-anchor="middle" fill="#000" >Migration Index</text>
<text x="6.50" y="610.30" font-size="16.4" font-weight="bold" text-anchor="start" fill="#000" >E</text>
<path d="M309.0,610.3 H515.2 V752.0" fill="none" stroke="#707070" stroke-width="1"/>
<rect x="326.50" y="632.97" width="31.40" height="90.69" fill="#b3b3b3" stroke="#444" stroke-width="1"/>
<rect x="373.00" y="700.99" width="31.40" height="22.67" fill="#b3b3b3" stroke="#444" stroke-width="1"/>
<rect x="420.00" y="700.99" width="31.40" height="22.67" fill="#b3b3b3" stroke="#444" stroke-width="1"/>
<rect x="466.50" y="723.66" width="32.10" height="11.34" fill="#b3b3b3" stroke="#444" stroke-width="1"/>
<line x1="309.00" y1="609.80" x2="309.00" y2="752.50" stroke="#4a4a4a" stroke-width="1.05" />
<line x1="308.50" y1="752.00" x2="515.70" y2="752.00" stroke="#333" stroke-width="1.1" />
<line x1="306.20" y1="742.55" x2="309.00" y2="742.55" stroke="#222" stroke-width="1" />
<text x="302.30" y="744.85" font-size="7.7" font-weight="bold" text-anchor="end" fill="#111" stroke="#111" stroke-width="0.22">-10</text>
<line x1="306.20" y1="723.66" x2="309.00" y2="723.66" stroke="#222" stroke-width="1" />
<text x="302.30" y="725.96" font-size="7.7" font-weight="bold" text-anchor="end" fill="#111" stroke="#111" stroke-width="0.22">0</text>
<line x1="306.20" y1="704.77" x2="309.00" y2="704.77" stroke="#222" stroke-width="1" />
<text x="302.30" y="707.07" font-size="7.7" font-weight="bold" text-anchor="end" fill="#111" stroke="#111" stroke-width="0.22">10</text>
<line x1="306.20" y1="685.87" x2="309.00" y2="685.87" stroke="#222" stroke-width="1" />
<text x="302.30" y="688.17" font-size="7.7" font-weight="bold" text-anchor="end" fill="#111" stroke="#111" stroke-width="0.22">20</text>
<line x1="306.20" y1="666.98" x2="309.00" y2="666.98" stroke="#222" stroke-width="1" />
<text x="302.30" y="669.28" font-size="7.7" font-weight="bold" text-anchor="end" fill="#111" stroke="#111" stroke-width="0.22">30</text>
<line x1="306.20" y1="648.09" x2="309.00" y2="648.09" stroke="#222" stroke-width="1" />
<text x="302.30" y="650.39" font-size="7.7" font-weight="bold" text-anchor="end" fill="#111" stroke="#111" stroke-width="0.22">40</text>
<line x1="306.20" y1="629.19" x2="309.00" y2="629.19" stroke="#222" stroke-width="1" />
<text x="302.30" y="631.49" font-size="7.7" font-weight="bold" text-anchor="end" fill="#111" stroke="#111" stroke-width="0.22">50</text>
<line x1="306.20" y1="610.30" x2="309.00" y2="610.30" stroke="#222" stroke-width="1" />
<text x="302.30" y="612.60" font-size="7.7" font-weight="bold" text-anchor="end" fill="#111" stroke="#111" stroke-width="0.22">60</text>
<line x1="309.00" y1="723.66" x2="515.20" y2="723.66" stroke="#222" stroke-width="1" />
<path d="M342.00,626.45 L342.00,624.00 M342.00,626.45 L344.33,625.69 M342.00,626.45 L343.44,628.43 M342.00,626.45 L340.56,628.43 M342.00,626.45 L339.67,625.69 " stroke="#111" stroke-width="1.15" stroke-linecap="butt" fill="none"/>
<path d="M389.00,695.25 L389.00,692.80 M389.00,695.25 L391.33,694.49 M389.00,695.25 L390.44,697.23 M389.00,695.25 L387.56,697.23 M389.00,695.25 L386.67,694.49 " stroke="#111" stroke-width="1.15" stroke-linecap="butt" fill="none"/>
<path d="M433.80,697.95 L433.80,695.50 M433.80,697.95 L436.13,697.19 M433.80,697.95 L435.24,699.93 M433.80,697.95 L432.36,699.93 M433.80,697.95 L431.47,697.19 " stroke="#111" stroke-width="1.15" stroke-linecap="butt" fill="none"/>
<path d="M483.00,742.45 L483.00,740.00 M483.00,742.45 L485.33,741.69 M483.00,742.45 L484.44,744.43 M483.00,742.45 L481.56,744.43 M483.00,742.45 L480.67,741.69 " stroke="#111" stroke-width="1.15" stroke-linecap="butt" fill="none"/>
<rect x="453.50" y="624.30" width="17.60" height="4.00" fill="#b3b3b3" stroke="#333" stroke-width="1"/>
<text x="474.90" y="629.00" font-size="8.5" font-weight="bold" text-anchor="start" fill="#000" >M2c:M1</text>
<text transform="translate(347.80,763.50) rotate(-27)" font-size="13" font-weight="bold" text-anchor="end" fill="#000" stroke="#000" stroke-width="0.25">CXCR4</text>
<text transform="translate(395.10,761.50) rotate(-27)" font-size="13" font-weight="bold" text-anchor="end" fill="#000" stroke="#000" stroke-width="0.25">CCR10</text>
<text transform="translate(444.30,762.50) rotate(-27)" font-size="13" font-weight="bold" text-anchor="end" fill="#000" stroke="#000" stroke-width="0.25">CX3CR1</text>
<text transform="translate(492.10,762.50) rotate(-27)" font-size="13" font-weight="bold" text-anchor="end" fill="#000" stroke="#000" stroke-width="0.25">CCR7</text>
<text transform="translate(285.70,679.60) rotate(-90)" font-size="13.4" font-weight="bold" text-anchor="middle" fill="#000" >Relative Expression</text>
<text x="270.10" y="611.40" font-size="16.4" font-weight="bold" text-anchor="start" fill="#000" >F</text>
<path d="M579.7,608.6 H788.5 V753.7" fill="none" stroke="#707070" stroke-width="1"/>
<rect x="601.90" y="717.43" width="14.00" height="36.27" fill="#000"/>
<line x1="608.90" y1="717.43" x2="608.90" y2="713.56" stroke="#222" stroke-width="1" />
<line x1="606.10" y1="713.56" x2="611.70" y2="713.56" stroke="#222" stroke-width="1" />
<rect x="626.40" y="627.95" width="13.00" height="125.75" fill="#b3b3b3" stroke="#222" stroke-width="1"/>
<line x1="632.90" y1="627.95" x2="632.90" y2="618.27" stroke="#222" stroke-width="1" />
<line x1="630.10" y1="618.27" x2="635.70" y2="618.27" stroke="#222" stroke-width="1" />
<rect x="665.20" y="727.10" width="13.40" height="26.60" fill="#000"/>
<line x1="671.90" y1="727.10" x2="671.90" y2="723.47" stroke="#222" stroke-width="1" />
<line x1="669.10" y1="723.47" x2="674.70" y2="723.47" stroke="#222" stroke-width="1" />
<rect x="688.80" y="659.38" width="13.40" height="94.32" fill="#b3b3b3" stroke="#222" stroke-width="1"/>
<line x1="695.50" y1="659.38" x2="695.50" y2="650.92" stroke="#222" stroke-width="1" />
<line x1="692.70" y1="650.92" x2="698.30" y2="650.92" stroke="#222" stroke-width="1" />
<rect x="728.00" y="715.01" width="13.70" height="38.69" fill="#000"/>
<line x1="734.85" y1="715.01" x2="734.85" y2="707.75" stroke="#222" stroke-width="1" />
<line x1="732.05" y1="707.75" x2="737.65" y2="707.75" stroke="#222" stroke-width="1" />
<rect x="751.90" y="658.18" width="13.40" height="95.52" fill="#b3b3b3" stroke="#222" stroke-width="1"/>
<line x1="758.60" y1="658.18" x2="758.60" y2="645.60" stroke="#222" stroke-width="1" />
<line x1="755.80" y1="645.60" x2="761.40" y2="645.60" stroke="#222" stroke-width="1" />
<line x1="579.70" y1="608.10" x2="579.70" y2="754.20" stroke="#4a4a4a" stroke-width="1.05" />
<line x1="579.20" y1="753.70" x2="789.00" y2="753.70" stroke="#333" stroke-width="1.1" />
<line x1="576.90" y1="753.70" x2="579.70" y2="753.70" stroke="#222" stroke-width="1" />
<text x="573.30" y="756.00" font-size="7.7" font-weight="bold" text-anchor="end" fill="#111" stroke="#111" stroke-width="0.22">0</text>
<line x1="576.90" y1="729.52" x2="579.70" y2="729.52" stroke="#222" stroke-width="1" />
<text x="573.30" y="731.82" font-size="7.7" font-weight="bold" text-anchor="end" fill="#111" stroke="#111" stroke-width="0.22">1</text>
<line x1="576.90" y1="705.33" x2="579.70" y2="705.33" stroke="#222" stroke-width="1" />
<text x="573.30" y="707.63" font-size="7.7" font-weight="bold" text-anchor="end" fill="#111" stroke="#111" stroke-width="0.22">2</text>
<line x1="576.90" y1="681.15" x2="579.70" y2="681.15" stroke="#222" stroke-width="1" />
<text x="573.30" y="683.45" font-size="7.7" font-weight="bold" text-anchor="end" fill="#111" stroke="#111" stroke-width="0.22">3</text>
<line x1="576.90" y1="656.97" x2="579.70" y2="656.97" stroke="#222" stroke-width="1" />
<text x="573.30" y="659.27" font-size="7.7" font-weight="bold" text-anchor="end" fill="#111" stroke="#111" stroke-width="0.22">4</text>
<line x1="576.90" y1="632.78" x2="579.70" y2="632.78" stroke="#222" stroke-width="1" />
<text x="573.30" y="635.08" font-size="7.7" font-weight="bold" text-anchor="end" fill="#111" stroke="#111" stroke-width="0.22">5</text>
<line x1="576.90" y1="608.60" x2="579.70" y2="608.60" stroke="#222" stroke-width="1" />
<text x="573.30" y="610.90" font-size="7.7" font-weight="bold" text-anchor="end" fill="#111" stroke="#111" stroke-width="0.22">6</text>
<path d="M628.70,613.95 L628.70,611.50 M628.70,613.95 L631.03,613.19 M628.70,613.95 L630.14,615.93 M628.70,613.95 L627.26,615.93 M628.70,613.95 L626.37,613.19 " stroke="#111" stroke-width="1.15" stroke-linecap="butt" fill="none"/>
<path d="M633.90,613.95 L633.90,611.50 M633.90,613.95 L636.23,613.19 M633.90,613.95 L635.34,615.93 M633.90,613.95 L632.46,615.93 M633.90,613.95 L631.57,613.19 " stroke="#111" stroke-width="1.15" stroke-linecap="butt" fill="none"/>
<path d="M691.90,647.55 L691.90,645.10 M691.90,647.55 L694.23,646.79 M691.90,647.55 L693.34,649.53 M691.90,647.55 L690.46,649.53 M691.90,647.55 L689.57,646.79 " stroke="#111" stroke-width="1.15" stroke-linecap="butt" fill="none"/>
<path d="M697.10,647.55 L697.10,645.10 M697.10,647.55 L699.43,646.79 M697.10,647.55 L698.54,649.53 M697.10,647.55 L695.66,649.53 M697.10,647.55 L694.77,646.79 " stroke="#111" stroke-width="1.15" stroke-linecap="butt" fill="none"/>
<path d="M758.50,642.25 L758.50,639.80 M758.50,642.25 L760.83,641.49 M758.50,642.25 L759.94,644.23 M758.50,642.25 L757.06,644.23 M758.50,642.25 L756.17,641.49 " stroke="#111" stroke-width="1.15" stroke-linecap="butt" fill="none"/>
<rect x="743.60" y="615.40" width="17.80" height="4.00" fill="#000" stroke="#000" stroke-width="1"/>
<text x="765.60" y="619.90" font-size="8.6" font-weight="bold" text-anchor="start" fill="#000" >M1</text>
<rect x="743.60" y="626.70" width="17.80" height="4.00" fill="#b3b3b3" stroke="#222" stroke-width="1"/>
<text x="765.60" y="631.20" font-size="8.6" font-weight="bold" text-anchor="start" fill="#000" >M2c</text>
<text x="621.10" y="767.00" font-size="13.5" font-weight="bold" text-anchor="middle" fill="#000" >CXCL12</text>
<text x="683.90" y="767.00" font-size="13.5" font-weight="bold" text-anchor="middle" fill="#000" >CX3CL1</text>
<text x="746.00" y="767.00" font-size="13.5" font-weight="bold" text-anchor="middle" fill="#000" >CCL27</text>
<text transform="translate(563.00,681.50) rotate(-90)" font-size="13" font-weight="bold" text-anchor="middle" fill="#000" >Migration Index</text>
<text x="536.50" y="609.80" font-size="16.4" font-weight="bold" text-anchor="start" fill="#000" >G</text>
</svg>
</body></html>
